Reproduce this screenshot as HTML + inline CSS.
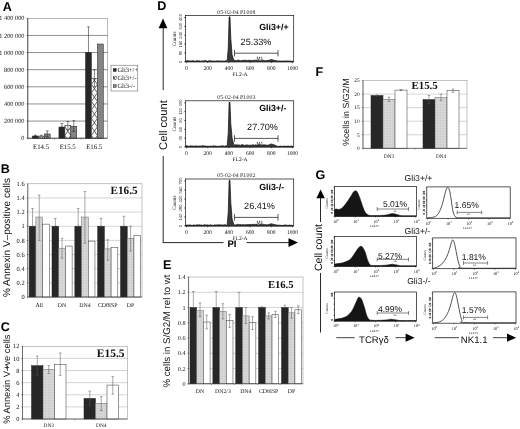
<!DOCTYPE html>
<html lang="en"><head><meta charset="utf-8"><title>Figure</title>
<style>html,body{margin:0;padding:0;background:#fff}svg{display:block}text{white-space:pre;text-rendering:geometricPrecision}</style>
</head><body>
<svg width="520" height="429" viewBox="0 0 520 429">
<defs>
<pattern id="hatch" width="6" height="6" patternUnits="userSpaceOnUse">
<rect width="6" height="6" fill="#f4f4f4"/>
<path d="M0 0L6 6M6 0L0 6" stroke="#333" stroke-width="0.7" fill="none"/>
</pattern>
<pattern id="dots" width="1.5" height="1.5" patternUnits="userSpaceOnUse">
<rect width="1.5" height="1.5" fill="#999"/>
<rect width="0.75" height="0.75" fill="#6e6e6e"/>
<rect x="0.75" y="0.75" width="0.75" height="0.75" fill="#6e6e6e"/>
</pattern>
<pattern id="lg" width="1.6" height="1.6" patternUnits="userSpaceOnUse">
<rect width="1.6" height="1.6" fill="#d8d8d8"/>
<rect width="0.8" height="0.8" fill="#c6c6c6"/>
</pattern>
</defs>
<rect width="520" height="429" fill="#fff"/>
<text x="2.70" y="10.50" font-family='"Liberation Sans", sans-serif' font-size="12.6" font-weight="bold" text-anchor="start" fill="#000" >A</text>
<text x="0.80" y="172.70" font-family='"Liberation Sans", sans-serif' font-size="12.6" font-weight="bold" text-anchor="start" fill="#000" >B</text>
<text x="0.80" y="331.40" font-family='"Liberation Sans", sans-serif' font-size="12.6" font-weight="bold" text-anchor="start" fill="#000" >C</text>
<text x="157.20" y="10.00" font-family='"Liberation Sans", sans-serif' font-size="12.6" font-weight="bold" text-anchor="start" fill="#000" >D</text>
<text x="163.00" y="269.40" font-family='"Liberation Sans", sans-serif' font-size="12.6" font-weight="bold" text-anchor="start" fill="#000" >E</text>
<text x="315.50" y="76.20" font-family='"Liberation Sans", sans-serif' font-size="12.6" font-weight="bold" text-anchor="start" fill="#000" >F</text>
<text x="315.50" y="179.30" font-family='"Liberation Sans", sans-serif' font-size="12.6" font-weight="bold" text-anchor="start" fill="#000" >G</text>
<rect x="27.80" y="18.30" width="79.70" height="119.90" fill="#fff" stroke="#777" stroke-width="0.5" />
<line x1="26.50" y1="138.20" x2="27.80" y2="138.20" stroke="#333" stroke-width="0.5" />
<text x="24.50" y="140.30" font-family='"Liberation Serif", serif' font-size="6.3" font-weight="normal" text-anchor="end" fill="#111" >0</text>
<line x1="27.80" y1="121.07" x2="107.50" y2="121.07" stroke="#333" stroke-width="0.55" />
<line x1="26.50" y1="121.07" x2="27.80" y2="121.07" stroke="#333" stroke-width="0.5" />
<text x="24.50" y="123.17" font-family='"Liberation Serif", serif' font-size="6.3" font-weight="normal" text-anchor="end" fill="#111" >200 000</text>
<line x1="27.80" y1="103.94" x2="107.50" y2="103.94" stroke="#333" stroke-width="0.55" />
<line x1="26.50" y1="103.94" x2="27.80" y2="103.94" stroke="#333" stroke-width="0.5" />
<text x="24.50" y="106.04" font-family='"Liberation Serif", serif' font-size="6.3" font-weight="normal" text-anchor="end" fill="#111" >400 000</text>
<line x1="27.80" y1="86.81" x2="107.50" y2="86.81" stroke="#333" stroke-width="0.55" />
<line x1="26.50" y1="86.81" x2="27.80" y2="86.81" stroke="#333" stroke-width="0.5" />
<text x="24.50" y="88.91" font-family='"Liberation Serif", serif' font-size="6.3" font-weight="normal" text-anchor="end" fill="#111" >600 000</text>
<line x1="27.80" y1="69.69" x2="107.50" y2="69.69" stroke="#333" stroke-width="0.55" />
<line x1="26.50" y1="69.69" x2="27.80" y2="69.69" stroke="#333" stroke-width="0.5" />
<text x="24.50" y="71.79" font-family='"Liberation Serif", serif' font-size="6.3" font-weight="normal" text-anchor="end" fill="#111" >800 000</text>
<line x1="27.80" y1="52.56" x2="107.50" y2="52.56" stroke="#333" stroke-width="0.55" />
<line x1="26.50" y1="52.56" x2="27.80" y2="52.56" stroke="#333" stroke-width="0.5" />
<text x="24.50" y="54.66" font-family='"Liberation Serif", serif' font-size="6.3" font-weight="normal" text-anchor="end" fill="#111" >1 000 000</text>
<line x1="27.80" y1="35.43" x2="107.50" y2="35.43" stroke="#333" stroke-width="0.55" />
<line x1="26.50" y1="35.43" x2="27.80" y2="35.43" stroke="#333" stroke-width="0.5" />
<text x="24.50" y="37.53" font-family='"Liberation Serif", serif' font-size="6.3" font-weight="normal" text-anchor="end" fill="#111" >1 200 000</text>
<line x1="26.50" y1="18.30" x2="27.80" y2="18.30" stroke="#333" stroke-width="0.5" />
<text x="24.50" y="20.40" font-family='"Liberation Serif", serif' font-size="6.3" font-weight="normal" text-anchor="end" fill="#111" >1 400 000</text>
<rect x="32.36" y="136.06" width="5.95" height="2.14" fill="#272727" stroke="#222" stroke-width="0.5" />
<line x1="35.33" y1="135.20" x2="35.33" y2="136.06" stroke="#222" stroke-width="0.55" />
<line x1="33.93" y1="135.20" x2="36.73" y2="135.20" stroke="#222" stroke-width="0.55" />
<line x1="33.93" y1="136.06" x2="36.73" y2="136.06" stroke="#222" stroke-width="0.55" />
<rect x="38.31" y="136.06" width="5.95" height="2.14" fill="#fafafa" stroke="#222" stroke-width="0.5" />
<clipPath id="hc0"><rect x="38.31" y="136.06" width="5.95" height="2.14"/></clipPath>
<path d="M38.31 143.90L44.26 135.40M44.26 143.90L38.31 135.40" stroke="#2a2a2a" stroke-width="0.7" fill="none" clip-path="url(#hc0)"/>
<line x1="41.28" y1="135.20" x2="41.28" y2="136.92" stroke="#222" stroke-width="0.55" />
<line x1="39.88" y1="135.20" x2="42.68" y2="135.20" stroke="#222" stroke-width="0.55" />
<line x1="39.88" y1="136.92" x2="42.68" y2="136.92" stroke="#222" stroke-width="0.55" />
<rect x="44.26" y="133.92" width="5.95" height="4.28" fill="url(#dots)" stroke="#222" stroke-width="0.5" />
<line x1="47.23" y1="130.92" x2="47.23" y2="136.49" stroke="#222" stroke-width="0.55" />
<line x1="45.83" y1="130.92" x2="48.63" y2="130.92" stroke="#222" stroke-width="0.55" />
<line x1="45.83" y1="136.49" x2="48.63" y2="136.49" stroke="#222" stroke-width="0.55" />
<line x1="27.80" y1="138.20" x2="27.80" y2="139.50" stroke="#333" stroke-width="0.5" />
<text x="41.08" y="149.40" font-family='"Liberation Serif", serif' font-size="6.8" font-weight="normal" text-anchor="middle" fill="#111" >E14.5</text>
<rect x="58.93" y="127.07" width="5.95" height="11.13" fill="#272727" stroke="#222" stroke-width="0.5" />
<line x1="61.90" y1="123.64" x2="61.90" y2="127.07" stroke="#222" stroke-width="0.55" />
<line x1="60.50" y1="123.64" x2="63.30" y2="123.64" stroke="#222" stroke-width="0.55" />
<line x1="60.50" y1="127.07" x2="63.30" y2="127.07" stroke="#222" stroke-width="0.55" />
<rect x="64.88" y="125.35" width="5.95" height="12.85" fill="#fafafa" stroke="#222" stroke-width="0.5" />
<clipPath id="hc1"><rect x="64.88" y="125.35" width="5.95" height="12.85"/></clipPath>
<path d="M64.88 143.90L70.83 135.40M70.83 143.90L64.88 135.40M64.88 135.40L70.83 126.90M70.83 135.40L64.88 126.90M64.88 126.90L70.83 118.40M70.83 126.90L64.88 118.40" stroke="#2a2a2a" stroke-width="0.7" fill="none" clip-path="url(#hc1)"/>
<line x1="67.85" y1="121.50" x2="67.85" y2="129.64" stroke="#222" stroke-width="0.55" />
<line x1="66.45" y1="121.50" x2="69.25" y2="121.50" stroke="#222" stroke-width="0.55" />
<line x1="66.45" y1="129.64" x2="69.25" y2="129.64" stroke="#222" stroke-width="0.55" />
<rect x="70.83" y="126.21" width="5.95" height="11.99" fill="url(#dots)" stroke="#222" stroke-width="0.5" />
<line x1="73.80" y1="120.64" x2="73.80" y2="131.35" stroke="#222" stroke-width="0.55" />
<line x1="72.40" y1="120.64" x2="75.20" y2="120.64" stroke="#222" stroke-width="0.55" />
<line x1="72.40" y1="131.35" x2="75.20" y2="131.35" stroke="#222" stroke-width="0.55" />
<line x1="54.37" y1="138.20" x2="54.37" y2="139.50" stroke="#333" stroke-width="0.5" />
<text x="67.65" y="149.40" font-family='"Liberation Serif", serif' font-size="6.8" font-weight="normal" text-anchor="middle" fill="#111" >E15.5</text>
<rect x="85.49" y="52.56" width="5.95" height="85.64" fill="#272727" stroke="#222" stroke-width="0.5" />
<line x1="88.47" y1="26.86" x2="88.47" y2="52.56" stroke="#222" stroke-width="0.55" />
<line x1="87.07" y1="26.86" x2="89.87" y2="26.86" stroke="#222" stroke-width="0.55" />
<line x1="87.07" y1="52.56" x2="89.87" y2="52.56" stroke="#222" stroke-width="0.55" />
<rect x="91.44" y="78.25" width="5.95" height="59.95" fill="#fafafa" stroke="#222" stroke-width="0.5" />
<clipPath id="hc2"><rect x="91.44" y="78.25" width="5.95" height="59.95"/></clipPath>
<path d="M91.44 143.90L97.39 135.40M97.39 143.90L91.44 135.40M91.44 135.40L97.39 126.90M97.39 135.40L91.44 126.90M91.44 126.90L97.39 118.40M97.39 126.90L91.44 118.40M91.44 118.40L97.39 109.90M97.39 118.40L91.44 109.90M91.44 109.90L97.39 101.40M97.39 109.90L91.44 101.40M91.44 101.40L97.39 92.90M97.39 101.40L91.44 92.90M91.44 92.90L97.39 84.40M97.39 92.90L91.44 84.40M91.44 84.40L97.39 75.90M97.39 84.40L91.44 75.90" stroke="#2a2a2a" stroke-width="0.7" fill="none" clip-path="url(#hc2)"/>
<line x1="94.42" y1="69.69" x2="94.42" y2="86.81" stroke="#222" stroke-width="0.55" />
<line x1="93.02" y1="69.69" x2="95.82" y2="69.69" stroke="#222" stroke-width="0.55" />
<line x1="93.02" y1="86.81" x2="95.82" y2="86.81" stroke="#222" stroke-width="0.55" />
<rect x="97.39" y="43.99" width="5.95" height="94.21" fill="url(#dots)" stroke="#222" stroke-width="0.5" />
<line x1="80.93" y1="138.20" x2="80.93" y2="139.50" stroke="#333" stroke-width="0.5" />
<text x="94.22" y="149.40" font-family='"Liberation Serif", serif' font-size="6.8" font-weight="normal" text-anchor="middle" fill="#111" >E16.5</text>
<line x1="27.80" y1="18.30" x2="27.80" y2="138.20" stroke="#222" stroke-width="0.7" />
<line x1="27.80" y1="138.20" x2="107.50" y2="138.20" stroke="#222" stroke-width="0.7" />
<rect x="111.00" y="65.20" width="26.80" height="25.80" fill="#fff" stroke="#555" stroke-width="0.5" />
<rect x="113.20" y="68.50" width="3.00" height="3.00" fill="#272727" stroke="#222" stroke-width="0.4" />
<text x="117.40" y="72.20" font-family='"Liberation Serif", serif' font-size="6.5" font-weight="normal" text-anchor="start" fill="#111" >Gli3+/+</text>
<rect x="113.20" y="76.55" width="3.00" height="3.00" fill="url(#hatch)" stroke="#222" stroke-width="0.4" />
<text x="117.40" y="80.25" font-family='"Liberation Serif", serif' font-size="6.5" font-weight="normal" text-anchor="start" fill="#111" >Gli3+/-</text>
<rect x="113.20" y="84.60" width="3.00" height="3.00" fill="url(#dots)" stroke="#222" stroke-width="0.4" />
<text x="117.40" y="88.30" font-family='"Liberation Serif", serif' font-size="6.5" font-weight="normal" text-anchor="start" fill="#111" >Gli3-/-</text>
<rect x="27.80" y="183.80" width="114.20" height="113.20" fill="#fff" stroke="#888" stroke-width="0.5" />
<line x1="26.60" y1="297.00" x2="27.80" y2="297.00" stroke="#333" stroke-width="0.5" />
<text x="24.60" y="299.11" font-family='"Liberation Serif", serif' font-size="6.4" font-weight="normal" text-anchor="end" fill="#111" >0</text>
<line x1="27.80" y1="282.85" x2="142.00" y2="282.85" stroke="#aaa" stroke-width="0.5" />
<line x1="26.60" y1="282.85" x2="27.80" y2="282.85" stroke="#333" stroke-width="0.5" />
<text x="24.60" y="284.96" font-family='"Liberation Serif", serif' font-size="6.4" font-weight="normal" text-anchor="end" fill="#111" >0.2</text>
<line x1="27.80" y1="268.70" x2="142.00" y2="268.70" stroke="#aaa" stroke-width="0.5" />
<line x1="26.60" y1="268.70" x2="27.80" y2="268.70" stroke="#333" stroke-width="0.5" />
<text x="24.60" y="270.81" font-family='"Liberation Serif", serif' font-size="6.4" font-weight="normal" text-anchor="end" fill="#111" >0.4</text>
<line x1="27.80" y1="254.55" x2="142.00" y2="254.55" stroke="#aaa" stroke-width="0.5" />
<line x1="26.60" y1="254.55" x2="27.80" y2="254.55" stroke="#333" stroke-width="0.5" />
<text x="24.60" y="256.66" font-family='"Liberation Serif", serif' font-size="6.4" font-weight="normal" text-anchor="end" fill="#111" >0.6</text>
<line x1="27.80" y1="240.40" x2="142.00" y2="240.40" stroke="#aaa" stroke-width="0.5" />
<line x1="26.60" y1="240.40" x2="27.80" y2="240.40" stroke="#333" stroke-width="0.5" />
<text x="24.60" y="242.51" font-family='"Liberation Serif", serif' font-size="6.4" font-weight="normal" text-anchor="end" fill="#111" >0.8</text>
<line x1="27.80" y1="226.25" x2="142.00" y2="226.25" stroke="#aaa" stroke-width="0.5" />
<line x1="26.60" y1="226.25" x2="27.80" y2="226.25" stroke="#333" stroke-width="0.5" />
<text x="24.60" y="228.36" font-family='"Liberation Serif", serif' font-size="6.4" font-weight="normal" text-anchor="end" fill="#111" >1</text>
<line x1="27.80" y1="212.10" x2="142.00" y2="212.10" stroke="#aaa" stroke-width="0.5" />
<line x1="26.60" y1="212.10" x2="27.80" y2="212.10" stroke="#333" stroke-width="0.5" />
<text x="24.60" y="214.21" font-family='"Liberation Serif", serif' font-size="6.4" font-weight="normal" text-anchor="end" fill="#111" >1.2</text>
<line x1="27.80" y1="197.95" x2="142.00" y2="197.95" stroke="#aaa" stroke-width="0.5" />
<line x1="26.60" y1="197.95" x2="27.80" y2="197.95" stroke="#333" stroke-width="0.5" />
<text x="24.60" y="200.06" font-family='"Liberation Serif", serif' font-size="6.4" font-weight="normal" text-anchor="end" fill="#111" >1.4</text>
<line x1="26.60" y1="183.80" x2="27.80" y2="183.80" stroke="#333" stroke-width="0.5" />
<text x="24.60" y="185.91" font-family='"Liberation Serif", serif' font-size="6.4" font-weight="normal" text-anchor="end" fill="#111" >1.6</text>
<rect x="29.17" y="226.25" width="6.70" height="70.75" fill="#272727" stroke="#222" stroke-width="0.5" />
<line x1="32.52" y1="208.56" x2="32.52" y2="226.25" stroke="#555" stroke-width="0.5" />
<line x1="31.22" y1="208.56" x2="33.82" y2="208.56" stroke="#555" stroke-width="0.5" />
<line x1="31.22" y1="226.25" x2="33.82" y2="226.25" stroke="#555" stroke-width="0.5" />
<rect x="35.87" y="217.05" width="6.70" height="79.95" fill="url(#lg)" stroke="#666" stroke-width="0.5" />
<line x1="39.22" y1="195.12" x2="39.22" y2="240.40" stroke="#555" stroke-width="0.5" />
<line x1="37.92" y1="195.12" x2="40.52" y2="195.12" stroke="#555" stroke-width="0.5" />
<line x1="37.92" y1="240.40" x2="40.52" y2="240.40" stroke="#555" stroke-width="0.5" />
<rect x="42.57" y="224.13" width="6.70" height="72.87" fill="#fff" stroke="#333" stroke-width="0.5" />
<line x1="27.80" y1="297.00" x2="27.80" y2="298.20" stroke="#333" stroke-width="0.5" />
<text x="39.22" y="307.20" font-family='"Liberation Serif", serif' font-size="5.9" font-weight="normal" text-anchor="middle" fill="#111" >All</text>
<rect x="52.01" y="226.25" width="6.70" height="70.75" fill="#272727" stroke="#222" stroke-width="0.5" />
<line x1="55.36" y1="218.47" x2="55.36" y2="226.25" stroke="#555" stroke-width="0.5" />
<line x1="54.06" y1="218.47" x2="56.66" y2="218.47" stroke="#555" stroke-width="0.5" />
<line x1="54.06" y1="226.25" x2="56.66" y2="226.25" stroke="#555" stroke-width="0.5" />
<rect x="58.71" y="248.18" width="6.70" height="48.82" fill="url(#lg)" stroke="#666" stroke-width="0.5" />
<line x1="62.06" y1="238.28" x2="62.06" y2="258.09" stroke="#555" stroke-width="0.5" />
<line x1="60.76" y1="238.28" x2="63.36" y2="238.28" stroke="#555" stroke-width="0.5" />
<line x1="60.76" y1="258.09" x2="63.36" y2="258.09" stroke="#555" stroke-width="0.5" />
<rect x="65.41" y="246.06" width="6.70" height="50.94" fill="#fff" stroke="#333" stroke-width="0.5" />
<line x1="50.64" y1="297.00" x2="50.64" y2="298.20" stroke="#333" stroke-width="0.5" />
<text x="62.06" y="307.20" font-family='"Liberation Serif", serif' font-size="5.9" font-weight="normal" text-anchor="middle" fill="#111" >DN</text>
<rect x="74.85" y="226.25" width="6.70" height="70.75" fill="#272727" stroke="#222" stroke-width="0.5" />
<line x1="78.20" y1="208.56" x2="78.20" y2="226.25" stroke="#555" stroke-width="0.5" />
<line x1="76.90" y1="208.56" x2="79.50" y2="208.56" stroke="#555" stroke-width="0.5" />
<line x1="76.90" y1="226.25" x2="79.50" y2="226.25" stroke="#555" stroke-width="0.5" />
<rect x="81.55" y="217.05" width="6.70" height="79.95" fill="url(#lg)" stroke="#666" stroke-width="0.5" />
<line x1="84.90" y1="191.58" x2="84.90" y2="243.23" stroke="#555" stroke-width="0.5" />
<line x1="83.60" y1="191.58" x2="86.20" y2="191.58" stroke="#555" stroke-width="0.5" />
<line x1="83.60" y1="243.23" x2="86.20" y2="243.23" stroke="#555" stroke-width="0.5" />
<rect x="88.25" y="241.11" width="6.70" height="55.89" fill="#fff" stroke="#333" stroke-width="0.5" />
<line x1="73.48" y1="297.00" x2="73.48" y2="298.20" stroke="#333" stroke-width="0.5" />
<text x="84.90" y="307.20" font-family='"Liberation Serif", serif' font-size="5.9" font-weight="normal" text-anchor="middle" fill="#111" >DN4</text>
<rect x="97.69" y="226.25" width="6.70" height="70.75" fill="#272727" stroke="#222" stroke-width="0.5" />
<line x1="101.04" y1="218.47" x2="101.04" y2="226.25" stroke="#555" stroke-width="0.5" />
<line x1="99.74" y1="218.47" x2="102.34" y2="218.47" stroke="#555" stroke-width="0.5" />
<line x1="99.74" y1="226.25" x2="102.34" y2="226.25" stroke="#555" stroke-width="0.5" />
<rect x="104.39" y="248.89" width="6.70" height="48.11" fill="url(#lg)" stroke="#666" stroke-width="0.5" />
<line x1="107.74" y1="239.69" x2="107.74" y2="260.21" stroke="#555" stroke-width="0.5" />
<line x1="106.44" y1="239.69" x2="109.04" y2="239.69" stroke="#555" stroke-width="0.5" />
<line x1="106.44" y1="260.21" x2="109.04" y2="260.21" stroke="#555" stroke-width="0.5" />
<rect x="111.09" y="247.48" width="6.70" height="49.52" fill="#fff" stroke="#333" stroke-width="0.5" />
<line x1="96.32" y1="297.00" x2="96.32" y2="298.20" stroke="#333" stroke-width="0.5" />
<text x="107.74" y="307.20" font-family='"Liberation Serif", serif' font-size="5.9" font-weight="normal" text-anchor="middle" fill="#111" >CD8ISP</text>
<rect x="120.53" y="226.25" width="6.70" height="70.75" fill="#272727" stroke="#222" stroke-width="0.5" />
<line x1="123.88" y1="216.35" x2="123.88" y2="226.25" stroke="#555" stroke-width="0.5" />
<line x1="122.58" y1="216.35" x2="125.18" y2="216.35" stroke="#555" stroke-width="0.5" />
<line x1="122.58" y1="226.25" x2="125.18" y2="226.25" stroke="#555" stroke-width="0.5" />
<rect x="127.23" y="238.28" width="6.70" height="58.72" fill="url(#lg)" stroke="#666" stroke-width="0.5" />
<line x1="130.58" y1="226.25" x2="130.58" y2="251.01" stroke="#555" stroke-width="0.5" />
<line x1="129.28" y1="226.25" x2="131.88" y2="226.25" stroke="#555" stroke-width="0.5" />
<line x1="129.28" y1="251.01" x2="131.88" y2="251.01" stroke="#555" stroke-width="0.5" />
<rect x="133.93" y="235.45" width="6.70" height="61.55" fill="#fff" stroke="#333" stroke-width="0.5" />
<line x1="119.16" y1="297.00" x2="119.16" y2="298.20" stroke="#333" stroke-width="0.5" />
<text x="130.58" y="307.20" font-family='"Liberation Serif", serif' font-size="5.9" font-weight="normal" text-anchor="middle" fill="#111" >DP</text>
<line x1="27.80" y1="183.80" x2="27.80" y2="297.00" stroke="#333" stroke-width="0.6" />
<line x1="27.80" y1="297.00" x2="142.00" y2="297.00" stroke="#333" stroke-width="0.6" />
<text x="137.60" y="193.80" font-family='"Liberation Serif", serif' font-size="11.2" font-weight="bold" text-anchor="end" fill="#111" >E16.5</text>
<text x="9.60" y="237.60" font-family='"Liberation Sans", sans-serif' font-size="10.0" font-weight="normal" text-anchor="middle" fill="#111" transform="rotate(-90 9.60 237.60)" >% Annexin V–positive cells</text>
<rect x="22.50" y="346.30" width="105.00" height="72.70" fill="#fff" stroke="#888" stroke-width="0.5" />
<line x1="21.30" y1="419.00" x2="22.50" y2="419.00" stroke="#333" stroke-width="0.5" />
<text x="19.50" y="421.11" font-family='"Liberation Serif", serif' font-size="6.4" font-weight="normal" text-anchor="end" fill="#111" >0</text>
<line x1="22.50" y1="406.88" x2="127.50" y2="406.88" stroke="#aaa" stroke-width="0.5" />
<line x1="21.30" y1="406.88" x2="22.50" y2="406.88" stroke="#333" stroke-width="0.5" />
<text x="19.50" y="409.00" font-family='"Liberation Serif", serif' font-size="6.4" font-weight="normal" text-anchor="end" fill="#111" >2</text>
<line x1="22.50" y1="394.77" x2="127.50" y2="394.77" stroke="#aaa" stroke-width="0.5" />
<line x1="21.30" y1="394.77" x2="22.50" y2="394.77" stroke="#333" stroke-width="0.5" />
<text x="19.50" y="396.88" font-family='"Liberation Serif", serif' font-size="6.4" font-weight="normal" text-anchor="end" fill="#111" >4</text>
<line x1="22.50" y1="382.65" x2="127.50" y2="382.65" stroke="#aaa" stroke-width="0.5" />
<line x1="21.30" y1="382.65" x2="22.50" y2="382.65" stroke="#333" stroke-width="0.5" />
<text x="19.50" y="384.76" font-family='"Liberation Serif", serif' font-size="6.4" font-weight="normal" text-anchor="end" fill="#111" >6</text>
<line x1="22.50" y1="370.53" x2="127.50" y2="370.53" stroke="#aaa" stroke-width="0.5" />
<line x1="21.30" y1="370.53" x2="22.50" y2="370.53" stroke="#333" stroke-width="0.5" />
<text x="19.50" y="372.65" font-family='"Liberation Serif", serif' font-size="6.4" font-weight="normal" text-anchor="end" fill="#111" >8</text>
<line x1="22.50" y1="358.42" x2="127.50" y2="358.42" stroke="#aaa" stroke-width="0.5" />
<line x1="21.30" y1="358.42" x2="22.50" y2="358.42" stroke="#333" stroke-width="0.5" />
<text x="19.50" y="360.53" font-family='"Liberation Serif", serif' font-size="6.4" font-weight="normal" text-anchor="end" fill="#111" >10</text>
<line x1="21.30" y1="346.30" x2="22.50" y2="346.30" stroke="#333" stroke-width="0.5" />
<text x="19.50" y="348.41" font-family='"Liberation Serif", serif' font-size="6.4" font-weight="normal" text-anchor="end" fill="#111" >12</text>
<rect x="31.50" y="365.69" width="11.50" height="53.31" fill="#272727" stroke="#222" stroke-width="0.5" />
<line x1="37.25" y1="355.99" x2="37.25" y2="375.38" stroke="#555" stroke-width="0.5" />
<line x1="35.95" y1="355.99" x2="38.55" y2="355.99" stroke="#555" stroke-width="0.5" />
<line x1="35.95" y1="375.38" x2="38.55" y2="375.38" stroke="#555" stroke-width="0.5" />
<rect x="43.00" y="369.32" width="11.50" height="49.68" fill="url(#lg)" stroke="#666" stroke-width="0.5" />
<line x1="48.75" y1="365.69" x2="48.75" y2="373.56" stroke="#555" stroke-width="0.5" />
<line x1="47.45" y1="365.69" x2="50.05" y2="365.69" stroke="#555" stroke-width="0.5" />
<line x1="47.45" y1="373.56" x2="50.05" y2="373.56" stroke="#555" stroke-width="0.5" />
<rect x="54.50" y="364.48" width="11.50" height="54.52" fill="#fff" stroke="#333" stroke-width="0.5" />
<line x1="60.25" y1="352.96" x2="60.25" y2="375.38" stroke="#555" stroke-width="0.5" />
<line x1="58.95" y1="352.96" x2="61.55" y2="352.96" stroke="#555" stroke-width="0.5" />
<line x1="58.95" y1="375.38" x2="61.55" y2="375.38" stroke="#555" stroke-width="0.5" />
<line x1="22.50" y1="419.00" x2="22.50" y2="420.20" stroke="#333" stroke-width="0.5" />
<text x="48.75" y="426.80" font-family='"Liberation Serif", serif' font-size="5.4" font-weight="normal" text-anchor="middle" fill="#111" >DN3</text>
<rect x="84.00" y="398.40" width="11.50" height="20.60" fill="#272727" stroke="#222" stroke-width="0.5" />
<line x1="89.75" y1="391.13" x2="89.75" y2="405.07" stroke="#555" stroke-width="0.5" />
<line x1="88.45" y1="391.13" x2="91.05" y2="391.13" stroke="#555" stroke-width="0.5" />
<line x1="88.45" y1="405.07" x2="91.05" y2="405.07" stroke="#555" stroke-width="0.5" />
<rect x="95.50" y="403.25" width="11.50" height="15.75" fill="url(#lg)" stroke="#666" stroke-width="0.5" />
<line x1="101.25" y1="396.58" x2="101.25" y2="410.52" stroke="#555" stroke-width="0.5" />
<line x1="99.95" y1="396.58" x2="102.55" y2="396.58" stroke="#555" stroke-width="0.5" />
<line x1="99.95" y1="410.52" x2="102.55" y2="410.52" stroke="#555" stroke-width="0.5" />
<rect x="107.00" y="385.07" width="11.50" height="33.93" fill="#fff" stroke="#333" stroke-width="0.5" />
<line x1="112.75" y1="376.59" x2="112.75" y2="394.16" stroke="#555" stroke-width="0.5" />
<line x1="111.45" y1="376.59" x2="114.05" y2="376.59" stroke="#555" stroke-width="0.5" />
<line x1="111.45" y1="394.16" x2="114.05" y2="394.16" stroke="#555" stroke-width="0.5" />
<line x1="75.00" y1="419.00" x2="75.00" y2="420.20" stroke="#333" stroke-width="0.5" />
<text x="101.25" y="426.80" font-family='"Liberation Serif", serif' font-size="5.4" font-weight="normal" text-anchor="middle" fill="#111" >DN4</text>
<line x1="22.50" y1="346.30" x2="22.50" y2="419.00" stroke="#333" stroke-width="0.6" />
<line x1="22.50" y1="419.00" x2="127.50" y2="419.00" stroke="#333" stroke-width="0.6" />
<text x="124.60" y="356.80" font-family='"Liberation Serif", serif' font-size="11.5" font-weight="bold" text-anchor="end" fill="#111" >E15.5</text>
<text x="9.70" y="423.80" font-family='"Liberation Sans", sans-serif' font-size="9.3" font-weight="normal" text-anchor="start" fill="#111" transform="rotate(-90 9.70 423.80)" >% Annexin V–<tspan dx="-4.2">+</tspan><tspan dx="-0.9">ve cells</tspan></text>
<rect x="188.60" y="277.00" width="114.40" height="106.80" fill="#fff" stroke="#888" stroke-width="0.5" />
<line x1="187.40" y1="383.80" x2="188.60" y2="383.80" stroke="#333" stroke-width="0.5" />
<text x="185.60" y="385.85" font-family='"Liberation Serif", serif' font-size="6.2" font-weight="normal" text-anchor="end" fill="#111" >0</text>
<line x1="188.60" y1="368.54" x2="303.00" y2="368.54" stroke="#aaa" stroke-width="0.5" />
<line x1="187.40" y1="368.54" x2="188.60" y2="368.54" stroke="#333" stroke-width="0.5" />
<text x="185.60" y="370.59" font-family='"Liberation Serif", serif' font-size="6.2" font-weight="normal" text-anchor="end" fill="#111" >0.2</text>
<line x1="188.60" y1="353.29" x2="303.00" y2="353.29" stroke="#aaa" stroke-width="0.5" />
<line x1="187.40" y1="353.29" x2="188.60" y2="353.29" stroke="#333" stroke-width="0.5" />
<text x="185.60" y="355.33" font-family='"Liberation Serif", serif' font-size="6.2" font-weight="normal" text-anchor="end" fill="#111" >0.4</text>
<line x1="188.60" y1="338.03" x2="303.00" y2="338.03" stroke="#aaa" stroke-width="0.5" />
<line x1="187.40" y1="338.03" x2="188.60" y2="338.03" stroke="#333" stroke-width="0.5" />
<text x="185.60" y="340.07" font-family='"Liberation Serif", serif' font-size="6.2" font-weight="normal" text-anchor="end" fill="#111" >0.6</text>
<line x1="188.60" y1="322.77" x2="303.00" y2="322.77" stroke="#aaa" stroke-width="0.5" />
<line x1="187.40" y1="322.77" x2="188.60" y2="322.77" stroke="#333" stroke-width="0.5" />
<text x="185.60" y="324.82" font-family='"Liberation Serif", serif' font-size="6.2" font-weight="normal" text-anchor="end" fill="#111" >0.8</text>
<line x1="188.60" y1="307.51" x2="303.00" y2="307.51" stroke="#aaa" stroke-width="0.5" />
<line x1="187.40" y1="307.51" x2="188.60" y2="307.51" stroke="#333" stroke-width="0.5" />
<text x="185.60" y="309.56" font-family='"Liberation Serif", serif' font-size="6.2" font-weight="normal" text-anchor="end" fill="#111" >1</text>
<line x1="188.60" y1="292.26" x2="303.00" y2="292.26" stroke="#aaa" stroke-width="0.5" />
<line x1="187.40" y1="292.26" x2="188.60" y2="292.26" stroke="#333" stroke-width="0.5" />
<text x="185.60" y="294.30" font-family='"Liberation Serif", serif' font-size="6.2" font-weight="normal" text-anchor="end" fill="#111" >1.2</text>
<line x1="187.40" y1="277.00" x2="188.60" y2="277.00" stroke="#333" stroke-width="0.5" />
<text x="185.60" y="279.05" font-family='"Liberation Serif", serif' font-size="6.2" font-weight="normal" text-anchor="end" fill="#111" >1.4</text>
<rect x="189.99" y="307.51" width="6.70" height="76.29" fill="#272727" stroke="#222" stroke-width="0.5" />
<line x1="193.34" y1="291.49" x2="193.34" y2="307.51" stroke="#555" stroke-width="0.5" />
<line x1="192.04" y1="291.49" x2="194.64" y2="291.49" stroke="#555" stroke-width="0.5" />
<line x1="192.04" y1="307.51" x2="194.64" y2="307.51" stroke="#555" stroke-width="0.5" />
<rect x="196.69" y="310.57" width="6.70" height="73.23" fill="url(#lg)" stroke="#666" stroke-width="0.5" />
<line x1="200.04" y1="302.94" x2="200.04" y2="316.67" stroke="#555" stroke-width="0.5" />
<line x1="198.74" y1="302.94" x2="201.34" y2="302.94" stroke="#555" stroke-width="0.5" />
<line x1="198.74" y1="316.67" x2="201.34" y2="316.67" stroke="#555" stroke-width="0.5" />
<rect x="203.39" y="322.01" width="6.70" height="61.79" fill="#fff" stroke="#333" stroke-width="0.5" />
<line x1="206.74" y1="315.14" x2="206.74" y2="328.87" stroke="#555" stroke-width="0.5" />
<line x1="205.44" y1="315.14" x2="208.04" y2="315.14" stroke="#555" stroke-width="0.5" />
<line x1="205.44" y1="328.87" x2="208.04" y2="328.87" stroke="#555" stroke-width="0.5" />
<line x1="188.60" y1="383.80" x2="188.60" y2="385.00" stroke="#333" stroke-width="0.5" />
<text x="200.04" y="393.00" font-family='"Liberation Serif", serif' font-size="5.8" font-weight="normal" text-anchor="middle" fill="#111" >DN</text>
<rect x="212.87" y="307.51" width="6.70" height="76.29" fill="#272727" stroke="#222" stroke-width="0.5" />
<line x1="216.22" y1="291.49" x2="216.22" y2="307.51" stroke="#555" stroke-width="0.5" />
<line x1="214.92" y1="291.49" x2="217.52" y2="291.49" stroke="#555" stroke-width="0.5" />
<line x1="214.92" y1="307.51" x2="217.52" y2="307.51" stroke="#555" stroke-width="0.5" />
<rect x="219.57" y="311.33" width="6.70" height="72.47" fill="url(#lg)" stroke="#666" stroke-width="0.5" />
<line x1="222.92" y1="303.70" x2="222.92" y2="318.96" stroke="#555" stroke-width="0.5" />
<line x1="221.62" y1="303.70" x2="224.22" y2="303.70" stroke="#555" stroke-width="0.5" />
<line x1="221.62" y1="318.96" x2="224.22" y2="318.96" stroke="#555" stroke-width="0.5" />
<rect x="226.27" y="320.48" width="6.70" height="63.32" fill="#fff" stroke="#333" stroke-width="0.5" />
<line x1="229.62" y1="314.38" x2="229.62" y2="327.35" stroke="#555" stroke-width="0.5" />
<line x1="228.32" y1="314.38" x2="230.92" y2="314.38" stroke="#555" stroke-width="0.5" />
<line x1="228.32" y1="327.35" x2="230.92" y2="327.35" stroke="#555" stroke-width="0.5" />
<line x1="211.48" y1="383.80" x2="211.48" y2="385.00" stroke="#333" stroke-width="0.5" />
<text x="222.92" y="393.00" font-family='"Liberation Serif", serif' font-size="5.8" font-weight="normal" text-anchor="middle" fill="#111" >DN2/3</text>
<rect x="235.75" y="307.51" width="6.70" height="76.29" fill="#272727" stroke="#222" stroke-width="0.5" />
<line x1="239.10" y1="292.26" x2="239.10" y2="307.51" stroke="#555" stroke-width="0.5" />
<line x1="237.80" y1="292.26" x2="240.40" y2="292.26" stroke="#555" stroke-width="0.5" />
<line x1="237.80" y1="307.51" x2="240.40" y2="307.51" stroke="#555" stroke-width="0.5" />
<rect x="242.45" y="315.91" width="6.70" height="67.89" fill="url(#lg)" stroke="#666" stroke-width="0.5" />
<line x1="245.80" y1="307.51" x2="245.80" y2="323.53" stroke="#555" stroke-width="0.5" />
<line x1="244.50" y1="307.51" x2="247.10" y2="307.51" stroke="#555" stroke-width="0.5" />
<line x1="244.50" y1="323.53" x2="247.10" y2="323.53" stroke="#555" stroke-width="0.5" />
<rect x="249.15" y="322.77" width="6.70" height="61.03" fill="#fff" stroke="#333" stroke-width="0.5" />
<line x1="252.50" y1="316.67" x2="252.50" y2="329.64" stroke="#555" stroke-width="0.5" />
<line x1="251.20" y1="316.67" x2="253.80" y2="316.67" stroke="#555" stroke-width="0.5" />
<line x1="251.20" y1="329.64" x2="253.80" y2="329.64" stroke="#555" stroke-width="0.5" />
<line x1="234.36" y1="383.80" x2="234.36" y2="385.00" stroke="#333" stroke-width="0.5" />
<text x="245.80" y="393.00" font-family='"Liberation Serif", serif' font-size="5.8" font-weight="normal" text-anchor="middle" fill="#111" >DN4</text>
<rect x="258.63" y="307.51" width="6.70" height="76.29" fill="#272727" stroke="#222" stroke-width="0.5" />
<line x1="261.98" y1="306.75" x2="261.98" y2="307.51" stroke="#555" stroke-width="0.5" />
<line x1="260.68" y1="306.75" x2="263.28" y2="306.75" stroke="#555" stroke-width="0.5" />
<line x1="260.68" y1="307.51" x2="263.28" y2="307.51" stroke="#555" stroke-width="0.5" />
<rect x="265.33" y="315.91" width="6.70" height="67.89" fill="url(#lg)" stroke="#666" stroke-width="0.5" />
<line x1="268.68" y1="312.85" x2="268.68" y2="318.96" stroke="#555" stroke-width="0.5" />
<line x1="267.38" y1="312.85" x2="269.98" y2="312.85" stroke="#555" stroke-width="0.5" />
<line x1="267.38" y1="318.96" x2="269.98" y2="318.96" stroke="#555" stroke-width="0.5" />
<rect x="272.03" y="314.38" width="6.70" height="69.42" fill="#fff" stroke="#333" stroke-width="0.5" />
<line x1="275.38" y1="311.33" x2="275.38" y2="317.43" stroke="#555" stroke-width="0.5" />
<line x1="274.08" y1="311.33" x2="276.68" y2="311.33" stroke="#555" stroke-width="0.5" />
<line x1="274.08" y1="317.43" x2="276.68" y2="317.43" stroke="#555" stroke-width="0.5" />
<line x1="257.24" y1="383.80" x2="257.24" y2="385.00" stroke="#333" stroke-width="0.5" />
<text x="268.68" y="393.00" font-family='"Liberation Serif", serif' font-size="5.8" font-weight="normal" text-anchor="middle" fill="#111" >CD8ISP</text>
<rect x="281.51" y="307.51" width="6.70" height="76.29" fill="#272727" stroke="#222" stroke-width="0.5" />
<line x1="284.86" y1="305.23" x2="284.86" y2="307.51" stroke="#555" stroke-width="0.5" />
<line x1="283.56" y1="305.23" x2="286.16" y2="305.23" stroke="#555" stroke-width="0.5" />
<line x1="283.56" y1="307.51" x2="286.16" y2="307.51" stroke="#555" stroke-width="0.5" />
<rect x="288.21" y="312.85" width="6.70" height="70.95" fill="url(#lg)" stroke="#666" stroke-width="0.5" />
<line x1="291.56" y1="307.51" x2="291.56" y2="318.19" stroke="#555" stroke-width="0.5" />
<line x1="290.26" y1="307.51" x2="292.86" y2="307.51" stroke="#555" stroke-width="0.5" />
<line x1="290.26" y1="318.19" x2="292.86" y2="318.19" stroke="#555" stroke-width="0.5" />
<rect x="294.91" y="309.80" width="6.70" height="74.00" fill="#fff" stroke="#333" stroke-width="0.5" />
<line x1="298.26" y1="305.99" x2="298.26" y2="313.62" stroke="#555" stroke-width="0.5" />
<line x1="296.96" y1="305.99" x2="299.56" y2="305.99" stroke="#555" stroke-width="0.5" />
<line x1="296.96" y1="313.62" x2="299.56" y2="313.62" stroke="#555" stroke-width="0.5" />
<line x1="280.12" y1="383.80" x2="280.12" y2="385.00" stroke="#333" stroke-width="0.5" />
<text x="291.56" y="393.00" font-family='"Liberation Serif", serif' font-size="5.8" font-weight="normal" text-anchor="middle" fill="#111" >DP</text>
<line x1="188.60" y1="277.00" x2="188.60" y2="383.80" stroke="#333" stroke-width="0.6" />
<line x1="188.60" y1="383.80" x2="303.00" y2="383.80" stroke="#333" stroke-width="0.6" />
<text x="293.50" y="287.60" font-family='"Liberation Serif", serif' font-size="10.6" font-weight="bold" text-anchor="end" fill="#111" >E16.5</text>
<text x="169.80" y="331.00" font-family='"Liberation Sans", sans-serif' font-size="9.7" font-weight="normal" text-anchor="middle" fill="#111" transform="rotate(-90 169.80 331.00)" >% cells in S/G2/M rel to wt</text>
<rect x="363.00" y="80.60" width="104.00" height="67.70" fill="#fff" stroke="#888" stroke-width="0.5" />
<line x1="361.80" y1="148.30" x2="363.00" y2="148.30" stroke="#333" stroke-width="0.5" />
<text x="359.60" y="150.05" font-family='"Liberation Serif", serif' font-size="5.3" font-weight="normal" text-anchor="end" fill="#111" >0</text>
<line x1="363.00" y1="134.76" x2="467.00" y2="134.76" stroke="#aaa" stroke-width="0.5" />
<line x1="361.80" y1="134.76" x2="363.00" y2="134.76" stroke="#333" stroke-width="0.5" />
<text x="359.60" y="136.51" font-family='"Liberation Serif", serif' font-size="5.3" font-weight="normal" text-anchor="end" fill="#111" >5</text>
<line x1="363.00" y1="121.22" x2="467.00" y2="121.22" stroke="#aaa" stroke-width="0.5" />
<line x1="361.80" y1="121.22" x2="363.00" y2="121.22" stroke="#333" stroke-width="0.5" />
<text x="359.60" y="122.97" font-family='"Liberation Serif", serif' font-size="5.3" font-weight="normal" text-anchor="end" fill="#111" >10</text>
<line x1="363.00" y1="107.68" x2="467.00" y2="107.68" stroke="#aaa" stroke-width="0.5" />
<line x1="361.80" y1="107.68" x2="363.00" y2="107.68" stroke="#333" stroke-width="0.5" />
<text x="359.60" y="109.43" font-family='"Liberation Serif", serif' font-size="5.3" font-weight="normal" text-anchor="end" fill="#111" >15</text>
<line x1="363.00" y1="94.14" x2="467.00" y2="94.14" stroke="#aaa" stroke-width="0.5" />
<line x1="361.80" y1="94.14" x2="363.00" y2="94.14" stroke="#333" stroke-width="0.5" />
<text x="359.60" y="95.89" font-family='"Liberation Serif", serif' font-size="5.3" font-weight="normal" text-anchor="end" fill="#111" >20</text>
<line x1="361.80" y1="80.60" x2="363.00" y2="80.60" stroke="#333" stroke-width="0.5" />
<text x="359.60" y="82.35" font-family='"Liberation Serif", serif' font-size="5.3" font-weight="normal" text-anchor="end" fill="#111" >25</text>
<rect x="371.00" y="95.49" width="12.00" height="52.81" fill="#272727" stroke="#222" stroke-width="0.5" />
<line x1="377.00" y1="94.95" x2="377.00" y2="96.04" stroke="#555" stroke-width="0.5" />
<line x1="375.70" y1="94.95" x2="378.30" y2="94.95" stroke="#555" stroke-width="0.5" />
<line x1="375.70" y1="96.04" x2="378.30" y2="96.04" stroke="#555" stroke-width="0.5" />
<rect x="383.00" y="99.29" width="12.00" height="49.01" fill="url(#lg)" stroke="#666" stroke-width="0.5" />
<line x1="389.00" y1="97.12" x2="389.00" y2="101.45" stroke="#555" stroke-width="0.5" />
<line x1="387.70" y1="97.12" x2="390.30" y2="97.12" stroke="#555" stroke-width="0.5" />
<line x1="387.70" y1="101.45" x2="390.30" y2="101.45" stroke="#555" stroke-width="0.5" />
<rect x="395.00" y="90.08" width="12.00" height="58.22" fill="#fff" stroke="#333" stroke-width="0.5" />
<line x1="401.00" y1="89.54" x2="401.00" y2="90.62" stroke="#555" stroke-width="0.5" />
<line x1="399.70" y1="89.54" x2="402.30" y2="89.54" stroke="#555" stroke-width="0.5" />
<line x1="399.70" y1="90.62" x2="402.30" y2="90.62" stroke="#555" stroke-width="0.5" />
<line x1="363.00" y1="148.30" x2="363.00" y2="149.50" stroke="#333" stroke-width="0.5" />
<text x="389.00" y="157.60" font-family='"Liberation Serif", serif' font-size="5.2" font-weight="normal" text-anchor="middle" fill="#111" >DN3</text>
<rect x="423.00" y="99.56" width="12.00" height="48.74" fill="#272727" stroke="#222" stroke-width="0.5" />
<line x1="429.00" y1="95.49" x2="429.00" y2="103.62" stroke="#555" stroke-width="0.5" />
<line x1="427.70" y1="95.49" x2="430.30" y2="95.49" stroke="#555" stroke-width="0.5" />
<line x1="427.70" y1="103.62" x2="430.30" y2="103.62" stroke="#555" stroke-width="0.5" />
<rect x="435.00" y="97.39" width="12.00" height="50.91" fill="url(#lg)" stroke="#666" stroke-width="0.5" />
<line x1="441.00" y1="94.14" x2="441.00" y2="100.64" stroke="#555" stroke-width="0.5" />
<line x1="439.70" y1="94.14" x2="442.30" y2="94.14" stroke="#555" stroke-width="0.5" />
<line x1="439.70" y1="100.64" x2="442.30" y2="100.64" stroke="#555" stroke-width="0.5" />
<rect x="447.00" y="90.62" width="12.00" height="57.68" fill="#fff" stroke="#333" stroke-width="0.5" />
<line x1="453.00" y1="88.99" x2="453.00" y2="92.24" stroke="#555" stroke-width="0.5" />
<line x1="451.70" y1="88.99" x2="454.30" y2="88.99" stroke="#555" stroke-width="0.5" />
<line x1="451.70" y1="92.24" x2="454.30" y2="92.24" stroke="#555" stroke-width="0.5" />
<line x1="415.00" y1="148.30" x2="415.00" y2="149.50" stroke="#333" stroke-width="0.5" />
<text x="441.00" y="157.60" font-family='"Liberation Serif", serif' font-size="5.2" font-weight="normal" text-anchor="middle" fill="#111" >DN4</text>
<line x1="363.00" y1="80.60" x2="363.00" y2="148.30" stroke="#333" stroke-width="0.6" />
<line x1="363.00" y1="148.30" x2="467.00" y2="148.30" stroke="#333" stroke-width="0.6" />
<text x="424.60" y="89.20" font-family='"Liberation Serif", serif' font-size="10.9" font-weight="bold" text-anchor="middle" fill="#111" >E15.5</text>
<text x="348.60" y="112.20" font-family='"Liberation Sans", sans-serif' font-size="8.9" font-weight="normal" text-anchor="middle" fill="#111" transform="rotate(-90 348.60 112.20)" >%cells in S/G2/M</text>
<rect x="185.50" y="15.50" width="108.20" height="46.30" fill="#fff" stroke="#111" stroke-width="0.7" />
<polygon points="185.80,61.40 186.00,61.11 187.10,60.61 188.20,60.67 189.30,61.02 190.40,60.85 191.50,60.89 192.60,60.74 193.70,60.65 194.80,61.13 195.90,61.18 197.00,60.61 198.10,60.90 199.20,60.67 200.30,61.20 201.40,60.89 202.50,60.69 203.60,61.04 204.70,60.54 205.80,60.57 206.90,61.18 208.00,61.18 209.10,60.82 210.20,60.54 211.30,60.93 212.40,61.05 213.50,60.90 214.60,61.18 215.70,61.04 216.80,60.89 217.90,60.85 219.00,61.04 220.10,61.04 221.20,61.05 222.30,60.88 223.40,61.00 224.50,61.18 225.60,60.61 226.70,60.81 227.20,60.40 228.26,47.91 229.11,17.10 229.96,16.70 230.81,38.65 232.08,54.87 233.67,59.72 234.73,60.38 236.13,60.71 237.53,60.13 238.93,60.22 240.33,60.75 241.73,60.60 243.13,60.32 244.53,60.33 245.93,60.17 247.33,60.54 248.73,60.24 250.13,60.36 251.53,60.62 252.93,60.42 254.33,60.20 255.73,60.23 257.13,60.48 258.53,60.42 259.93,60.82 261.33,60.67 262.73,60.27 264.13,60.54 265.53,60.72 266.93,60.44 268.65,60.36 271.30,59.56 273.95,60.20 276.60,60.80 277.66,60.95 279.36,60.96 281.06,61.11 282.76,61.08 284.46,61.05 286.16,60.91 287.86,61.04 289.56,61.10 291.26,61.06 293.20,61.50 293.20,61.80 185.80,61.80" fill="#3a3a3a" stroke="#111" stroke-width="0.7" stroke-linejoin="round"/>
<text x="236.30" y="13.60" font-family='"Liberation Serif", serif' font-size="5.8" font-weight="normal" text-anchor="middle" fill="#222" >05-02-04 PI.008</text>
<line x1="186.50" y1="61.80" x2="186.50" y2="63.10" stroke="#111" stroke-width="0.6" />
<text x="186.50" y="70.10" font-family='"Liberation Serif", serif' font-size="5.6" font-weight="normal" text-anchor="middle" fill="#111" >0</text>
<line x1="207.70" y1="61.80" x2="207.70" y2="63.10" stroke="#111" stroke-width="0.6" />
<text x="207.70" y="70.10" font-family='"Liberation Serif", serif' font-size="5.6" font-weight="normal" text-anchor="middle" fill="#111" >200</text>
<line x1="228.90" y1="61.80" x2="228.90" y2="63.10" stroke="#111" stroke-width="0.6" />
<text x="228.90" y="70.10" font-family='"Liberation Serif", serif' font-size="5.6" font-weight="normal" text-anchor="middle" fill="#111" >400</text>
<line x1="250.10" y1="61.80" x2="250.10" y2="63.10" stroke="#111" stroke-width="0.6" />
<text x="250.10" y="70.10" font-family='"Liberation Serif", serif' font-size="5.6" font-weight="normal" text-anchor="middle" fill="#111" >600</text>
<line x1="271.30" y1="61.80" x2="271.30" y2="63.10" stroke="#111" stroke-width="0.6" />
<text x="271.30" y="70.10" font-family='"Liberation Serif", serif' font-size="5.6" font-weight="normal" text-anchor="middle" fill="#111" >800</text>
<line x1="292.50" y1="61.80" x2="292.50" y2="63.10" stroke="#111" stroke-width="0.6" />
<text x="292.50" y="70.10" font-family='"Liberation Serif", serif' font-size="5.6" font-weight="normal" text-anchor="middle" fill="#111" >1000</text>
<text x="240.00" y="76.10" font-family='"Liberation Serif", serif' font-size="5.5" font-weight="normal" text-anchor="middle" fill="#111" >FL2-A</text>
<line x1="184.10" y1="61.80" x2="185.50" y2="61.80" stroke="#111" stroke-width="0.6" />
<text x="181.70" y="61.80" font-family='"Liberation Serif", serif' font-size="4.6" font-weight="normal" text-anchor="middle" fill="#111" transform="rotate(-90 181.70 61.80)" >0</text>
<line x1="184.10" y1="52.94" x2="185.50" y2="52.94" stroke="#111" stroke-width="0.6" />
<text x="181.70" y="52.94" font-family='"Liberation Serif", serif' font-size="4.6" font-weight="normal" text-anchor="middle" fill="#111" transform="rotate(-90 181.70 52.94)" >80</text>
<line x1="184.10" y1="44.08" x2="185.50" y2="44.08" stroke="#111" stroke-width="0.6" />
<text x="181.70" y="44.08" font-family='"Liberation Serif", serif' font-size="4.6" font-weight="normal" text-anchor="middle" fill="#111" transform="rotate(-90 181.70 44.08)" >160</text>
<line x1="184.10" y1="35.22" x2="185.50" y2="35.22" stroke="#111" stroke-width="0.6" />
<text x="181.70" y="35.22" font-family='"Liberation Serif", serif' font-size="4.6" font-weight="normal" text-anchor="middle" fill="#111" transform="rotate(-90 181.70 35.22)" >240</text>
<line x1="184.10" y1="26.36" x2="185.50" y2="26.36" stroke="#111" stroke-width="0.6" />
<text x="181.70" y="26.36" font-family='"Liberation Serif", serif' font-size="4.6" font-weight="normal" text-anchor="middle" fill="#111" transform="rotate(-90 181.70 26.36)" >320</text>
<line x1="184.10" y1="17.50" x2="185.50" y2="17.50" stroke="#111" stroke-width="0.6" />
<text x="181.70" y="17.50" font-family='"Liberation Serif", serif' font-size="4.6" font-weight="normal" text-anchor="middle" fill="#111" transform="rotate(-90 181.70 17.50)" >400</text>
<text x="175.80" y="38.85" font-family='"Liberation Serif", serif' font-size="5.2" font-weight="normal" text-anchor="middle" fill="#111" transform="rotate(-90 175.80 38.85)" >Counts</text>
<text x="259.20" y="29.90" font-family='"Liberation Sans", sans-serif' font-size="8.8" font-weight="bold" text-anchor="start" fill="#000" >Gli3+/+</text>
<text x="256.00" y="45.10" font-family='"Liberation Sans", sans-serif' font-size="9.1" font-weight="normal" text-anchor="middle" fill="#111" >25.33%</text>
<line x1="234.50" y1="53.20" x2="278.00" y2="53.20" stroke="#111" stroke-width="0.7" />
<line x1="234.50" y1="50.00" x2="234.50" y2="56.40" stroke="#111" stroke-width="0.7" />
<line x1="278.00" y1="50.00" x2="278.00" y2="56.40" stroke="#111" stroke-width="0.7" />
<text x="259.80" y="59.80" font-family='"Liberation Sans", sans-serif' font-size="4.8" font-weight="normal" text-anchor="middle" fill="#111" >M1</text>
<rect x="185.50" y="100.80" width="108.20" height="46.20" fill="#fff" stroke="#111" stroke-width="0.7" />
<polygon points="185.80,146.60 186.00,145.73 187.10,145.74 188.20,146.36 189.30,146.34 190.40,145.82 191.50,145.88 192.60,145.93 193.70,146.18 194.80,145.98 195.90,145.98 197.00,145.99 198.10,146.29 199.20,146.10 200.30,146.12 201.40,145.89 202.50,145.70 203.60,145.74 204.70,146.02 205.80,146.09 206.90,146.21 208.00,146.37 209.10,146.38 210.20,146.07 211.30,146.18 212.40,146.13 213.50,145.78 214.60,146.03 215.70,146.01 216.80,146.23 217.90,146.38 219.00,146.17 220.10,146.30 221.20,146.04 222.30,145.70 223.40,145.93 224.50,146.27 225.60,145.77 226.70,145.84 227.20,145.60 228.26,133.14 229.11,102.40 229.96,102.00 230.81,123.90 232.08,137.87 233.67,144.14 234.73,144.95 236.13,144.78 237.53,144.92 238.93,144.90 240.33,145.33 241.73,144.71 243.13,144.73 244.53,145.52 245.93,144.93 247.33,144.97 248.73,145.22 250.13,145.15 251.53,145.19 252.93,144.76 254.33,145.18 255.73,144.86 257.13,145.33 258.53,144.81 259.93,144.79 261.33,145.22 262.73,145.12 264.13,144.77 265.53,144.96 266.93,145.20 268.65,145.02 271.30,143.92 273.95,144.80 276.60,146.00 277.66,146.39 279.36,146.34 281.06,146.15 282.76,146.42 284.46,146.05 286.16,146.37 287.86,146.04 289.56,146.35 291.26,146.02 293.20,146.70 293.20,147.00 185.80,147.00" fill="#3a3a3a" stroke="#111" stroke-width="0.7" stroke-linejoin="round"/>
<text x="236.30" y="98.90" font-family='"Liberation Serif", serif' font-size="5.8" font-weight="normal" text-anchor="middle" fill="#222" >05-02-04 PI.003</text>
<line x1="186.50" y1="147.00" x2="186.50" y2="148.30" stroke="#111" stroke-width="0.6" />
<text x="186.50" y="155.30" font-family='"Liberation Serif", serif' font-size="5.6" font-weight="normal" text-anchor="middle" fill="#111" >0</text>
<line x1="207.70" y1="147.00" x2="207.70" y2="148.30" stroke="#111" stroke-width="0.6" />
<text x="207.70" y="155.30" font-family='"Liberation Serif", serif' font-size="5.6" font-weight="normal" text-anchor="middle" fill="#111" >200</text>
<line x1="228.90" y1="147.00" x2="228.90" y2="148.30" stroke="#111" stroke-width="0.6" />
<text x="228.90" y="155.30" font-family='"Liberation Serif", serif' font-size="5.6" font-weight="normal" text-anchor="middle" fill="#111" >400</text>
<line x1="250.10" y1="147.00" x2="250.10" y2="148.30" stroke="#111" stroke-width="0.6" />
<text x="250.10" y="155.30" font-family='"Liberation Serif", serif' font-size="5.6" font-weight="normal" text-anchor="middle" fill="#111" >600</text>
<line x1="271.30" y1="147.00" x2="271.30" y2="148.30" stroke="#111" stroke-width="0.6" />
<text x="271.30" y="155.30" font-family='"Liberation Serif", serif' font-size="5.6" font-weight="normal" text-anchor="middle" fill="#111" >800</text>
<line x1="292.50" y1="147.00" x2="292.50" y2="148.30" stroke="#111" stroke-width="0.6" />
<text x="292.50" y="155.30" font-family='"Liberation Serif", serif' font-size="5.6" font-weight="normal" text-anchor="middle" fill="#111" >1000</text>
<text x="240.00" y="161.30" font-family='"Liberation Serif", serif' font-size="5.5" font-weight="normal" text-anchor="middle" fill="#111" >FL2-A</text>
<line x1="184.10" y1="147.00" x2="185.50" y2="147.00" stroke="#111" stroke-width="0.6" />
<text x="181.70" y="147.00" font-family='"Liberation Serif", serif' font-size="4.6" font-weight="normal" text-anchor="middle" fill="#111" transform="rotate(-90 181.70 147.00)" >0</text>
<line x1="184.10" y1="138.16" x2="185.50" y2="138.16" stroke="#111" stroke-width="0.6" />
<text x="181.70" y="138.16" font-family='"Liberation Serif", serif' font-size="4.6" font-weight="normal" text-anchor="middle" fill="#111" transform="rotate(-90 181.70 138.16)" >30</text>
<line x1="184.10" y1="129.32" x2="185.50" y2="129.32" stroke="#111" stroke-width="0.6" />
<text x="181.70" y="129.32" font-family='"Liberation Serif", serif' font-size="4.6" font-weight="normal" text-anchor="middle" fill="#111" transform="rotate(-90 181.70 129.32)" >60</text>
<line x1="184.10" y1="120.48" x2="185.50" y2="120.48" stroke="#111" stroke-width="0.6" />
<text x="181.70" y="120.48" font-family='"Liberation Serif", serif' font-size="4.6" font-weight="normal" text-anchor="middle" fill="#111" transform="rotate(-90 181.70 120.48)" >90</text>
<line x1="184.10" y1="111.64" x2="185.50" y2="111.64" stroke="#111" stroke-width="0.6" />
<text x="181.70" y="111.64" font-family='"Liberation Serif", serif' font-size="4.6" font-weight="normal" text-anchor="middle" fill="#111" transform="rotate(-90 181.70 111.64)" >120</text>
<line x1="184.10" y1="102.80" x2="185.50" y2="102.80" stroke="#111" stroke-width="0.6" />
<text x="181.70" y="102.80" font-family='"Liberation Serif", serif' font-size="4.6" font-weight="normal" text-anchor="middle" fill="#111" transform="rotate(-90 181.70 102.80)" >150</text>
<text x="175.80" y="124.10" font-family='"Liberation Serif", serif' font-size="5.2" font-weight="normal" text-anchor="middle" fill="#111" transform="rotate(-90 175.80 124.10)" >Counts</text>
<text x="259.20" y="110.80" font-family='"Liberation Sans", sans-serif' font-size="8.8" font-weight="bold" text-anchor="start" fill="#000" >Gli3+/-</text>
<text x="262.50" y="130.40" font-family='"Liberation Sans", sans-serif' font-size="9.1" font-weight="normal" text-anchor="middle" fill="#111" >27.70%</text>
<line x1="234.50" y1="138.40" x2="278.00" y2="138.40" stroke="#111" stroke-width="0.7" />
<line x1="234.50" y1="135.20" x2="234.50" y2="141.60" stroke="#111" stroke-width="0.7" />
<line x1="278.00" y1="135.20" x2="278.00" y2="141.60" stroke="#111" stroke-width="0.7" />
<text x="259.80" y="145.00" font-family='"Liberation Sans", sans-serif' font-size="4.8" font-weight="normal" text-anchor="middle" fill="#111" >M1</text>
<rect x="185.50" y="179.00" width="108.20" height="47.00" fill="#fff" stroke="#111" stroke-width="0.7" />
<polygon points="185.80,225.60 186.00,225.23 187.10,225.02 188.20,225.14 189.30,224.98 190.40,224.96 191.50,225.35 192.60,225.39 193.70,224.81 194.80,225.22 195.90,225.24 197.00,224.70 198.10,225.07 199.20,224.81 200.30,225.07 201.40,224.95 202.50,225.29 203.60,224.96 204.70,224.79 205.80,225.03 206.90,224.88 208.00,224.93 209.10,225.36 210.20,224.87 211.30,224.99 212.40,225.19 213.50,225.38 214.60,224.79 215.70,225.07 216.80,224.90 217.90,224.78 219.00,224.90 220.10,224.76 221.20,225.12 222.30,224.84 223.40,225.09 224.50,224.75 225.60,224.78 226.70,225.33 227.20,224.60 228.26,211.90 229.11,180.60 229.96,180.20 230.81,202.50 232.08,218.98 233.67,223.92 234.73,224.94 236.13,224.88 237.53,224.34 238.93,224.73 240.33,224.59 241.73,224.82 243.13,224.67 244.53,224.76 245.93,224.79 247.33,224.62 248.73,224.62 250.13,224.39 251.53,224.55 252.93,224.37 254.33,224.42 255.73,224.33 257.13,224.56 258.53,224.92 259.93,224.42 261.33,224.35 262.73,224.39 264.13,224.63 265.53,224.53 266.93,224.89 268.65,224.56 271.30,223.76 273.95,224.40 276.60,225.00 277.66,225.08 279.36,225.21 281.06,225.36 282.76,225.47 284.46,225.07 286.16,225.01 287.86,225.46 289.56,225.10 291.26,225.29 293.20,225.70 293.20,226.00 185.80,226.00" fill="#3a3a3a" stroke="#111" stroke-width="0.7" stroke-linejoin="round"/>
<text x="236.30" y="177.10" font-family='"Liberation Serif", serif' font-size="5.8" font-weight="normal" text-anchor="middle" fill="#222" >05-02-04 PI.002</text>
<line x1="186.50" y1="226.00" x2="186.50" y2="227.30" stroke="#111" stroke-width="0.6" />
<text x="186.50" y="234.30" font-family='"Liberation Serif", serif' font-size="5.6" font-weight="normal" text-anchor="middle" fill="#111" >0</text>
<line x1="207.70" y1="226.00" x2="207.70" y2="227.30" stroke="#111" stroke-width="0.6" />
<text x="207.70" y="234.30" font-family='"Liberation Serif", serif' font-size="5.6" font-weight="normal" text-anchor="middle" fill="#111" >200</text>
<line x1="228.90" y1="226.00" x2="228.90" y2="227.30" stroke="#111" stroke-width="0.6" />
<text x="228.90" y="234.30" font-family='"Liberation Serif", serif' font-size="5.6" font-weight="normal" text-anchor="middle" fill="#111" >400</text>
<line x1="250.10" y1="226.00" x2="250.10" y2="227.30" stroke="#111" stroke-width="0.6" />
<text x="250.10" y="234.30" font-family='"Liberation Serif", serif' font-size="5.6" font-weight="normal" text-anchor="middle" fill="#111" >600</text>
<line x1="271.30" y1="226.00" x2="271.30" y2="227.30" stroke="#111" stroke-width="0.6" />
<text x="271.30" y="234.30" font-family='"Liberation Serif", serif' font-size="5.6" font-weight="normal" text-anchor="middle" fill="#111" >800</text>
<line x1="292.50" y1="226.00" x2="292.50" y2="227.30" stroke="#111" stroke-width="0.6" />
<text x="292.50" y="234.30" font-family='"Liberation Serif", serif' font-size="5.6" font-weight="normal" text-anchor="middle" fill="#111" >1000</text>
<text x="240.00" y="240.30" font-family='"Liberation Serif", serif' font-size="5.5" font-weight="normal" text-anchor="middle" fill="#111" >FL2-A</text>
<line x1="184.10" y1="226.00" x2="185.50" y2="226.00" stroke="#111" stroke-width="0.6" />
<text x="181.70" y="226.00" font-family='"Liberation Serif", serif' font-size="4.6" font-weight="normal" text-anchor="middle" fill="#111" transform="rotate(-90 181.70 226.00)" >0</text>
<line x1="184.10" y1="217.00" x2="185.50" y2="217.00" stroke="#111" stroke-width="0.6" />
<text x="181.70" y="217.00" font-family='"Liberation Serif", serif' font-size="4.6" font-weight="normal" text-anchor="middle" fill="#111" transform="rotate(-90 181.70 217.00)" >140</text>
<line x1="184.10" y1="208.00" x2="185.50" y2="208.00" stroke="#111" stroke-width="0.6" />
<text x="181.70" y="208.00" font-family='"Liberation Serif", serif' font-size="4.6" font-weight="normal" text-anchor="middle" fill="#111" transform="rotate(-90 181.70 208.00)" >280</text>
<line x1="184.10" y1="199.00" x2="185.50" y2="199.00" stroke="#111" stroke-width="0.6" />
<text x="181.70" y="199.00" font-family='"Liberation Serif", serif' font-size="4.6" font-weight="normal" text-anchor="middle" fill="#111" transform="rotate(-90 181.70 199.00)" >420</text>
<line x1="184.10" y1="190.00" x2="185.50" y2="190.00" stroke="#111" stroke-width="0.6" />
<text x="181.70" y="190.00" font-family='"Liberation Serif", serif' font-size="4.6" font-weight="normal" text-anchor="middle" fill="#111" transform="rotate(-90 181.70 190.00)" >560</text>
<line x1="184.10" y1="181.00" x2="185.50" y2="181.00" stroke="#111" stroke-width="0.6" />
<text x="181.70" y="181.00" font-family='"Liberation Serif", serif' font-size="4.6" font-weight="normal" text-anchor="middle" fill="#111" transform="rotate(-90 181.70 181.00)" >700</text>
<text x="175.80" y="202.70" font-family='"Liberation Serif", serif' font-size="5.2" font-weight="normal" text-anchor="middle" fill="#111" transform="rotate(-90 175.80 202.70)" >Counts</text>
<text x="259.20" y="190.20" font-family='"Liberation Sans", sans-serif' font-size="8.8" font-weight="bold" text-anchor="start" fill="#000" >Gli3-/-</text>
<text x="259.50" y="208.60" font-family='"Liberation Sans", sans-serif' font-size="9.1" font-weight="normal" text-anchor="middle" fill="#111" >26.41%</text>
<line x1="234.50" y1="217.40" x2="278.00" y2="217.40" stroke="#111" stroke-width="0.7" />
<line x1="234.50" y1="214.20" x2="234.50" y2="220.60" stroke="#111" stroke-width="0.7" />
<line x1="278.00" y1="214.20" x2="278.00" y2="220.60" stroke="#111" stroke-width="0.7" />
<text x="259.80" y="224.00" font-family='"Liberation Sans", sans-serif' font-size="4.8" font-weight="normal" text-anchor="middle" fill="#111" >M1</text>
<polygon points="163,18.6 158.6,28.2 167.4,28.2" fill="#000"/>
<line x1="163.20" y1="27.00" x2="163.20" y2="90.00" stroke="#111" stroke-width="0.9" />
<text x="166.80" y="125.00" font-family='"Liberation Sans", sans-serif' font-size="11.2" font-weight="normal" text-anchor="middle" fill="#111" transform="rotate(-90 166.80 125.00)" >Cell count</text>
<line x1="163.20" y1="156.00" x2="163.20" y2="242.60" stroke="#111" stroke-width="0.9" />
<line x1="162.80" y1="242.60" x2="223.50" y2="242.60" stroke="#111" stroke-width="0.9" />
<text x="232.00" y="247.20" font-family='"Liberation Sans", sans-serif' font-size="9.6" font-weight="bold" text-anchor="middle" fill="#000" >PI</text>
<line x1="246.50" y1="242.60" x2="291.00" y2="242.60" stroke="#111" stroke-width="0.9" />
<polygon points="298,242.6 288.5,238.3 288.5,246.9" fill="#000"/>
<rect x="334.50" y="186.60" width="81.90" height="29.70" fill="#fff" stroke="#111" stroke-width="0.7" />
<path d="M335.00 216.00C335.00 214.94 334.26 210.47 335.00 209.40C335.74 208.33 338.27 209.73 339.60 209.30C340.93 208.87 342.12 207.85 343.30 206.70C344.48 205.55 345.83 203.72 347.00 202.10C348.17 200.48 349.59 198.18 350.60 196.60C351.61 195.02 352.56 193.13 353.30 192.20C354.04 191.27 354.61 190.90 355.20 190.80C355.79 190.70 356.28 190.53 357.00 191.60C357.72 192.67 358.82 195.23 359.70 197.50C360.58 199.77 361.62 203.45 362.50 205.80C363.38 208.15 364.18 210.70 365.20 212.20C366.22 213.70 367.17 214.67 368.90 215.20C370.63 215.73 373.74 215.48 376.00 215.50C378.26 215.52 381.21 215.41 383.00 215.30C384.79 215.19 385.66 215.09 387.20 214.80C388.74 214.51 390.86 213.50 392.60 213.50C394.34 213.50 396.63 214.45 398.10 214.80C399.57 215.15 398.94 215.54 401.80 215.70C404.66 215.86 413.73 215.78 416.00 215.80L416.00 216.30L334.90 216.30Z" fill="#151515" stroke="#111" stroke-width="0.5" stroke-linejoin="round"/>
<text x="383.00" y="206.60" font-family='"Liberation Sans", sans-serif' font-size="8.5" font-weight="normal" text-anchor="start" fill="#111" >5.01%</text>
<line x1="377.20" y1="209.00" x2="408.50" y2="209.00" stroke="#222" stroke-width="0.55" />
<line x1="377.20" y1="207.10" x2="377.20" y2="210.90" stroke="#222" stroke-width="0.55" />
<line x1="408.50" y1="207.10" x2="408.50" y2="210.90" stroke="#222" stroke-width="0.55" />
<text x="395.00" y="212.00" font-family='"Liberation Sans", sans-serif' font-size="2.3" font-weight="normal" text-anchor="middle" fill="#333" >M1</text>
<line x1="335.10" y1="216.30" x2="335.10" y2="217.50" stroke="#111" stroke-width="0.5" />
<text x="333.10" y="222.60" font-family='"Liberation Serif", serif' font-size="4.2" fill="#000">10<tspan dy="-1.7" font-size="3.0">0</tspan></text>
<line x1="355.28" y1="216.30" x2="355.28" y2="217.50" stroke="#111" stroke-width="0.5" />
<text x="353.28" y="222.60" font-family='"Liberation Serif", serif' font-size="4.2" fill="#000">10<tspan dy="-1.7" font-size="3.0">1</tspan></text>
<line x1="375.45" y1="216.30" x2="375.45" y2="217.50" stroke="#111" stroke-width="0.5" />
<text x="373.45" y="222.60" font-family='"Liberation Serif", serif' font-size="4.2" fill="#000">10<tspan dy="-1.7" font-size="3.0">2</tspan></text>
<line x1="395.62" y1="216.30" x2="395.62" y2="217.50" stroke="#111" stroke-width="0.5" />
<text x="393.62" y="222.60" font-family='"Liberation Serif", serif' font-size="4.2" fill="#000">10<tspan dy="-1.7" font-size="3.0">3</tspan></text>
<line x1="415.80" y1="216.30" x2="415.80" y2="217.50" stroke="#111" stroke-width="0.5" />
<text x="413.80" y="222.60" font-family='"Liberation Serif", serif' font-size="4.2" fill="#000">10<tspan dy="-1.7" font-size="3.0">4</tspan></text>
<text x="374.25" y="226.90" font-family='"Liberation Sans", sans-serif' font-size="3.1" font-weight="normal" text-anchor="middle" fill="#111" >FL3-H</text>
<line x1="333.40" y1="216.30" x2="334.50" y2="216.30" stroke="#111" stroke-width="0.5" />
<line x1="333.40" y1="210.56" x2="334.50" y2="210.56" stroke="#111" stroke-width="0.5" />
<line x1="333.40" y1="204.82" x2="334.50" y2="204.82" stroke="#111" stroke-width="0.5" />
<line x1="333.40" y1="199.08" x2="334.50" y2="199.08" stroke="#111" stroke-width="0.5" />
<line x1="333.40" y1="193.34" x2="334.50" y2="193.34" stroke="#111" stroke-width="0.5" />
<line x1="333.40" y1="187.60" x2="334.50" y2="187.60" stroke="#111" stroke-width="0.5" />
<text x="332.80" y="201.45" font-family='"Liberation Serif", serif' font-size="3.3" font-weight="bold" text-anchor="middle" fill="#000" transform="rotate(-90 332.80 201.45)" >0 20 40 60 80 100</text>
<text x="327.90" y="203.45" font-family='"Liberation Serif", serif' font-size="3.6" font-weight="normal" text-anchor="middle" fill="#000" transform="rotate(-90 327.90 203.45)" >Counts</text>
<rect x="334.50" y="236.60" width="81.90" height="29.70" fill="#fff" stroke="#111" stroke-width="0.7" />
<path d="M335.00 266.00C335.00 265.68 333.96 264.46 335.00 264.00C336.04 263.54 339.29 263.69 341.50 263.10C343.71 262.51 347.06 261.32 348.80 260.30C350.54 259.28 351.23 258.16 352.40 256.70C353.57 255.24 355.08 252.67 356.10 251.20C357.12 249.73 358.02 248.28 358.80 247.50C359.58 246.72 360.41 246.38 361.00 246.30C361.59 246.22 361.83 246.07 362.50 247.00C363.17 247.93 364.42 250.12 365.20 252.10C365.98 254.08 366.66 257.43 367.40 259.40C368.14 261.37 368.98 263.42 369.80 264.40C370.62 265.38 370.87 265.32 372.50 265.50C374.13 265.68 377.65 265.58 380.00 265.50C382.35 265.42 385.18 265.21 387.20 265.00C389.22 264.79 390.87 264.17 392.60 264.20C394.33 264.23 396.50 264.94 398.00 265.20C399.50 265.46 399.12 265.70 402.00 265.80C404.88 265.90 413.76 265.80 416.00 265.80L416.00 266.30L334.90 266.30Z" fill="#151515" stroke="#111" stroke-width="0.5" stroke-linejoin="round"/>
<text x="378.00" y="259.30" font-family='"Liberation Sans", sans-serif' font-size="8.5" font-weight="normal" text-anchor="start" fill="#111" >5.27%</text>
<line x1="377.20" y1="259.40" x2="408.50" y2="259.40" stroke="#222" stroke-width="0.55" />
<line x1="377.20" y1="257.50" x2="377.20" y2="261.30" stroke="#222" stroke-width="0.55" />
<line x1="408.50" y1="257.50" x2="408.50" y2="261.30" stroke="#222" stroke-width="0.55" />
<text x="395.00" y="262.40" font-family='"Liberation Sans", sans-serif' font-size="2.3" font-weight="normal" text-anchor="middle" fill="#333" >M1</text>
<line x1="335.10" y1="266.30" x2="335.10" y2="267.50" stroke="#111" stroke-width="0.5" />
<text x="333.10" y="272.60" font-family='"Liberation Serif", serif' font-size="4.2" fill="#000">10<tspan dy="-1.7" font-size="3.0">0</tspan></text>
<line x1="355.28" y1="266.30" x2="355.28" y2="267.50" stroke="#111" stroke-width="0.5" />
<text x="353.28" y="272.60" font-family='"Liberation Serif", serif' font-size="4.2" fill="#000">10<tspan dy="-1.7" font-size="3.0">1</tspan></text>
<line x1="375.45" y1="266.30" x2="375.45" y2="267.50" stroke="#111" stroke-width="0.5" />
<text x="373.45" y="272.60" font-family='"Liberation Serif", serif' font-size="4.2" fill="#000">10<tspan dy="-1.7" font-size="3.0">2</tspan></text>
<line x1="395.62" y1="266.30" x2="395.62" y2="267.50" stroke="#111" stroke-width="0.5" />
<text x="393.62" y="272.60" font-family='"Liberation Serif", serif' font-size="4.2" fill="#000">10<tspan dy="-1.7" font-size="3.0">3</tspan></text>
<line x1="415.80" y1="266.30" x2="415.80" y2="267.50" stroke="#111" stroke-width="0.5" />
<text x="413.80" y="272.60" font-family='"Liberation Serif", serif' font-size="4.2" fill="#000">10<tspan dy="-1.7" font-size="3.0">4</tspan></text>
<text x="374.25" y="276.90" font-family='"Liberation Sans", sans-serif' font-size="3.1" font-weight="normal" text-anchor="middle" fill="#111" >FL3-H</text>
<line x1="333.40" y1="266.30" x2="334.50" y2="266.30" stroke="#111" stroke-width="0.5" />
<line x1="333.40" y1="260.56" x2="334.50" y2="260.56" stroke="#111" stroke-width="0.5" />
<line x1="333.40" y1="254.82" x2="334.50" y2="254.82" stroke="#111" stroke-width="0.5" />
<line x1="333.40" y1="249.08" x2="334.50" y2="249.08" stroke="#111" stroke-width="0.5" />
<line x1="333.40" y1="243.34" x2="334.50" y2="243.34" stroke="#111" stroke-width="0.5" />
<line x1="333.40" y1="237.60" x2="334.50" y2="237.60" stroke="#111" stroke-width="0.5" />
<text x="332.80" y="251.45" font-family='"Liberation Serif", serif' font-size="3.3" font-weight="bold" text-anchor="middle" fill="#000" transform="rotate(-90 332.80 251.45)" >0 20 40 60 80 100</text>
<text x="327.90" y="253.45" font-family='"Liberation Serif", serif' font-size="3.6" font-weight="normal" text-anchor="middle" fill="#000" transform="rotate(-90 327.90 253.45)" >Counts</text>
<rect x="334.50" y="292.00" width="81.90" height="29.10" fill="#fff" stroke="#111" stroke-width="0.7" />
<path d="M335.00 320.80C335.00 320.58 333.96 319.80 335.00 319.40C336.04 319.00 339.58 318.83 341.50 318.30C343.42 317.77 345.40 317.19 347.00 316.10C348.60 315.01 350.19 313.40 351.50 311.50C352.81 309.60 354.18 306.33 355.20 304.20C356.22 302.07 357.23 299.32 357.90 298.20C358.57 297.08 358.81 297.02 359.40 297.20C359.99 297.38 360.82 297.75 361.60 299.30C362.38 300.85 363.48 304.36 364.30 306.90C365.12 309.44 365.92 313.20 366.70 315.20C367.48 317.20 368.27 318.58 369.20 319.40C370.13 320.22 370.77 320.16 372.50 320.30C374.23 320.44 377.65 320.38 380.00 320.30C382.35 320.22 385.33 319.98 387.20 319.80C389.07 319.62 389.97 319.14 391.70 319.20C393.43 319.26 396.35 319.98 398.00 320.20C399.65 320.42 399.12 320.54 402.00 320.60C404.88 320.66 413.76 320.60 416.00 320.60L416.00 321.10L334.90 321.10Z" fill="#151515" stroke="#111" stroke-width="0.5" stroke-linejoin="round"/>
<text x="378.00" y="312.20" font-family='"Liberation Sans", sans-serif' font-size="8.5" font-weight="normal" text-anchor="start" fill="#111" >4.99%</text>
<line x1="377.20" y1="313.00" x2="408.50" y2="313.00" stroke="#222" stroke-width="0.55" />
<line x1="377.20" y1="311.10" x2="377.20" y2="314.90" stroke="#222" stroke-width="0.55" />
<line x1="408.50" y1="311.10" x2="408.50" y2="314.90" stroke="#222" stroke-width="0.55" />
<text x="395.00" y="316.00" font-family='"Liberation Sans", sans-serif' font-size="2.3" font-weight="normal" text-anchor="middle" fill="#333" >M1</text>
<line x1="335.10" y1="321.10" x2="335.10" y2="322.30" stroke="#111" stroke-width="0.5" />
<text x="333.10" y="327.40" font-family='"Liberation Serif", serif' font-size="4.2" fill="#000">10<tspan dy="-1.7" font-size="3.0">0</tspan></text>
<line x1="355.28" y1="321.10" x2="355.28" y2="322.30" stroke="#111" stroke-width="0.5" />
<text x="353.28" y="327.40" font-family='"Liberation Serif", serif' font-size="4.2" fill="#000">10<tspan dy="-1.7" font-size="3.0">1</tspan></text>
<line x1="375.45" y1="321.10" x2="375.45" y2="322.30" stroke="#111" stroke-width="0.5" />
<text x="373.45" y="327.40" font-family='"Liberation Serif", serif' font-size="4.2" fill="#000">10<tspan dy="-1.7" font-size="3.0">2</tspan></text>
<line x1="395.62" y1="321.10" x2="395.62" y2="322.30" stroke="#111" stroke-width="0.5" />
<text x="393.62" y="327.40" font-family='"Liberation Serif", serif' font-size="4.2" fill="#000">10<tspan dy="-1.7" font-size="3.0">3</tspan></text>
<line x1="415.80" y1="321.10" x2="415.80" y2="322.30" stroke="#111" stroke-width="0.5" />
<text x="413.80" y="327.40" font-family='"Liberation Serif", serif' font-size="4.2" fill="#000">10<tspan dy="-1.7" font-size="3.0">4</tspan></text>
<text x="374.25" y="331.70" font-family='"Liberation Sans", sans-serif' font-size="3.1" font-weight="normal" text-anchor="middle" fill="#111" >FL3-H</text>
<line x1="333.40" y1="321.10" x2="334.50" y2="321.10" stroke="#111" stroke-width="0.5" />
<line x1="333.40" y1="315.48" x2="334.50" y2="315.48" stroke="#111" stroke-width="0.5" />
<line x1="333.40" y1="309.86" x2="334.50" y2="309.86" stroke="#111" stroke-width="0.5" />
<line x1="333.40" y1="304.24" x2="334.50" y2="304.24" stroke="#111" stroke-width="0.5" />
<line x1="333.40" y1="298.62" x2="334.50" y2="298.62" stroke="#111" stroke-width="0.5" />
<line x1="333.40" y1="293.00" x2="334.50" y2="293.00" stroke="#111" stroke-width="0.5" />
<text x="332.80" y="320.60" font-family='"Liberation Serif", serif' font-size="3.3" font-weight="bold" text-anchor="start" fill="#000" transform="rotate(-90 332.80 320.60)" >0</text>
<text x="332.80" y="292.50" font-family='"Liberation Serif", serif' font-size="3.3" font-weight="bold" text-anchor="end" fill="#000" transform="rotate(-90 332.80 292.50)" >100</text>
<text x="327.90" y="308.55" font-family='"Liberation Serif", serif' font-size="3.6" font-weight="normal" text-anchor="middle" fill="#000" transform="rotate(-90 327.90 308.55)" >Counts</text>
<rect x="426.80" y="186.90" width="83.40" height="31.40" fill="#fff" stroke="#111" stroke-width="0.7" />
<path d="M427.40 217.70C428.25 217.64 431.23 217.62 432.70 217.30C434.17 216.98 435.50 216.64 436.60 215.70C437.70 214.76 438.66 213.34 439.60 211.40C440.54 209.46 441.72 206.11 442.50 203.60C443.28 201.09 443.88 198.05 444.50 195.70C445.12 193.35 445.87 190.20 446.40 188.90C446.93 187.60 447.32 187.46 447.80 187.60C448.28 187.74 448.90 188.18 449.40 189.80C449.90 191.42 450.44 194.87 450.90 197.70C451.36 200.53 451.82 204.83 452.30 207.50C452.78 210.17 453.28 212.83 453.90 214.40C454.52 215.97 455.05 216.76 456.20 217.30C457.35 217.84 452.52 217.72 461.10 217.80C469.68 217.88 502.01 217.80 509.80 217.80" fill="none" stroke="#1a1a1a" stroke-width="0.75" stroke-linejoin="round"/>
<text x="454.60" y="208.40" font-family='"Liberation Sans", sans-serif' font-size="8.5" font-weight="normal" text-anchor="start" fill="#111" >1.65%</text>
<line x1="457.20" y1="212.40" x2="481.70" y2="212.40" stroke="#222" stroke-width="0.55" />
<line x1="457.20" y1="210.50" x2="457.20" y2="214.30" stroke="#222" stroke-width="0.55" />
<line x1="481.70" y1="210.50" x2="481.70" y2="214.30" stroke="#222" stroke-width="0.55" />
<text x="468.45" y="215.40" font-family='"Liberation Sans", sans-serif' font-size="2.3" font-weight="normal" text-anchor="middle" fill="#333" >M1</text>
<line x1="427.40" y1="218.30" x2="427.40" y2="219.50" stroke="#111" stroke-width="0.5" />
<text x="425.40" y="224.60" font-family='"Liberation Serif", serif' font-size="4.2" fill="#000">10<tspan dy="-1.7" font-size="3.0">0</tspan></text>
<line x1="447.95" y1="218.30" x2="447.95" y2="219.50" stroke="#111" stroke-width="0.5" />
<text x="445.95" y="224.60" font-family='"Liberation Serif", serif' font-size="4.2" fill="#000">10<tspan dy="-1.7" font-size="3.0">1</tspan></text>
<line x1="468.50" y1="218.30" x2="468.50" y2="219.50" stroke="#111" stroke-width="0.5" />
<text x="466.50" y="224.60" font-family='"Liberation Serif", serif' font-size="4.2" fill="#000">10<tspan dy="-1.7" font-size="3.0">2</tspan></text>
<line x1="489.05" y1="218.30" x2="489.05" y2="219.50" stroke="#111" stroke-width="0.5" />
<text x="487.05" y="224.60" font-family='"Liberation Serif", serif' font-size="4.2" fill="#000">10<tspan dy="-1.7" font-size="3.0">3</tspan></text>
<line x1="509.60" y1="218.30" x2="509.60" y2="219.50" stroke="#111" stroke-width="0.5" />
<text x="507.60" y="224.60" font-family='"Liberation Serif", serif' font-size="4.2" fill="#000">10<tspan dy="-1.7" font-size="3.0">4</tspan></text>
<text x="467.30" y="228.90" font-family='"Liberation Sans", sans-serif' font-size="3.1" font-weight="normal" text-anchor="middle" fill="#111" >FL1-H</text>
<line x1="425.70" y1="218.30" x2="426.80" y2="218.30" stroke="#111" stroke-width="0.5" />
<line x1="425.70" y1="212.22" x2="426.80" y2="212.22" stroke="#111" stroke-width="0.5" />
<line x1="425.70" y1="206.14" x2="426.80" y2="206.14" stroke="#111" stroke-width="0.5" />
<line x1="425.70" y1="200.06" x2="426.80" y2="200.06" stroke="#111" stroke-width="0.5" />
<line x1="425.70" y1="193.98" x2="426.80" y2="193.98" stroke="#111" stroke-width="0.5" />
<line x1="425.70" y1="187.90" x2="426.80" y2="187.90" stroke="#111" stroke-width="0.5" />
<text x="425.10" y="202.60" font-family='"Liberation Serif", serif' font-size="3.3" font-weight="bold" text-anchor="middle" fill="#000" transform="rotate(-90 425.10 202.60)" >0 20 40 60 80 100</text>
<text x="420.20" y="204.60" font-family='"Liberation Serif", serif' font-size="3.6" font-weight="normal" text-anchor="middle" fill="#000" transform="rotate(-90 420.20 204.60)" >Counts</text>
<rect x="432.70" y="237.90" width="83.30" height="30.80" fill="#fff" stroke="#111" stroke-width="0.7" />
<path d="M433.30 268.30C433.99 268.08 436.13 267.68 437.60 266.90C439.07 266.12 441.09 264.90 442.50 263.40C443.91 261.90 445.30 259.71 446.40 257.50C447.50 255.29 448.62 251.95 449.40 249.60C450.18 247.25 450.77 244.37 451.30 242.80C451.83 241.23 452.22 239.80 452.70 239.80C453.18 239.80 453.74 240.91 454.30 242.80C454.86 244.69 455.58 248.62 456.20 251.60C456.82 254.58 457.56 258.95 458.20 261.40C458.84 263.85 459.42 265.81 460.20 266.90C460.98 267.99 454.24 267.99 463.10 268.20C471.96 268.41 507.20 268.20 515.60 268.20" fill="none" stroke="#1a1a1a" stroke-width="0.75" stroke-linejoin="round"/>
<text x="461.80" y="260.30" font-family='"Liberation Sans", sans-serif' font-size="8.5" font-weight="normal" text-anchor="start" fill="#111" >1.81%</text>
<line x1="463.50" y1="263.00" x2="487.60" y2="263.00" stroke="#222" stroke-width="0.55" />
<line x1="463.50" y1="261.10" x2="463.50" y2="264.90" stroke="#222" stroke-width="0.55" />
<line x1="487.60" y1="261.10" x2="487.60" y2="264.90" stroke="#222" stroke-width="0.55" />
<text x="474.55" y="266.00" font-family='"Liberation Sans", sans-serif' font-size="2.3" font-weight="normal" text-anchor="middle" fill="#333" >M1</text>
<line x1="433.30" y1="268.70" x2="433.30" y2="269.90" stroke="#111" stroke-width="0.5" />
<text x="431.30" y="275.00" font-family='"Liberation Serif", serif' font-size="4.2" fill="#000">10<tspan dy="-1.7" font-size="3.0">0</tspan></text>
<line x1="453.82" y1="268.70" x2="453.82" y2="269.90" stroke="#111" stroke-width="0.5" />
<text x="451.82" y="275.00" font-family='"Liberation Serif", serif' font-size="4.2" fill="#000">10<tspan dy="-1.7" font-size="3.0">1</tspan></text>
<line x1="474.35" y1="268.70" x2="474.35" y2="269.90" stroke="#111" stroke-width="0.5" />
<text x="472.35" y="275.00" font-family='"Liberation Serif", serif' font-size="4.2" fill="#000">10<tspan dy="-1.7" font-size="3.0">2</tspan></text>
<line x1="494.88" y1="268.70" x2="494.88" y2="269.90" stroke="#111" stroke-width="0.5" />
<text x="492.88" y="275.00" font-family='"Liberation Serif", serif' font-size="4.2" fill="#000">10<tspan dy="-1.7" font-size="3.0">3</tspan></text>
<line x1="515.40" y1="268.70" x2="515.40" y2="269.90" stroke="#111" stroke-width="0.5" />
<text x="513.40" y="275.00" font-family='"Liberation Serif", serif' font-size="4.2" fill="#000">10<tspan dy="-1.7" font-size="3.0">4</tspan></text>
<text x="473.15" y="279.30" font-family='"Liberation Sans", sans-serif' font-size="3.1" font-weight="normal" text-anchor="middle" fill="#111" >FL1-H</text>
<line x1="431.60" y1="268.70" x2="432.70" y2="268.70" stroke="#111" stroke-width="0.5" />
<line x1="431.60" y1="262.74" x2="432.70" y2="262.74" stroke="#111" stroke-width="0.5" />
<line x1="431.60" y1="256.78" x2="432.70" y2="256.78" stroke="#111" stroke-width="0.5" />
<line x1="431.60" y1="250.82" x2="432.70" y2="250.82" stroke="#111" stroke-width="0.5" />
<line x1="431.60" y1="244.86" x2="432.70" y2="244.86" stroke="#111" stroke-width="0.5" />
<line x1="431.60" y1="238.90" x2="432.70" y2="238.90" stroke="#111" stroke-width="0.5" />
<text x="431.00" y="253.30" font-family='"Liberation Serif", serif' font-size="3.3" font-weight="bold" text-anchor="middle" fill="#000" transform="rotate(-90 431.00 253.30)" >0 40 80 120 160</text>
<text x="426.10" y="255.30" font-family='"Liberation Serif", serif' font-size="3.6" font-weight="normal" text-anchor="middle" fill="#000" transform="rotate(-90 426.10 255.30)" >Counts</text>
<rect x="432.70" y="291.90" width="83.30" height="31.30" fill="#fff" stroke="#111" stroke-width="0.7" />
<path d="M433.30 322.60C434.31 322.49 437.81 322.59 439.60 321.90C441.39 321.21 443.09 319.96 444.50 318.30C445.91 316.64 447.31 314.01 448.40 311.50C449.49 308.99 450.52 305.27 451.30 302.60C452.08 299.93 452.72 296.40 453.30 294.80C453.88 293.20 454.40 292.44 454.90 292.60C455.40 292.76 455.87 293.88 456.40 295.80C456.93 297.72 457.59 301.62 458.20 304.60C458.81 307.58 459.58 311.82 460.20 314.40C460.82 316.98 461.32 319.39 462.10 320.70C462.88 322.01 456.54 322.28 465.10 322.60C473.66 322.92 507.52 322.68 515.60 322.70" fill="none" stroke="#1a1a1a" stroke-width="0.75" stroke-linejoin="round"/>
<text x="461.80" y="312.70" font-family='"Liberation Sans", sans-serif' font-size="8.5" font-weight="normal" text-anchor="start" fill="#111" >1.57%</text>
<line x1="463.50" y1="317.40" x2="487.60" y2="317.40" stroke="#222" stroke-width="0.55" />
<line x1="463.50" y1="315.50" x2="463.50" y2="319.30" stroke="#222" stroke-width="0.55" />
<line x1="487.60" y1="315.50" x2="487.60" y2="319.30" stroke="#222" stroke-width="0.55" />
<text x="474.55" y="320.40" font-family='"Liberation Sans", sans-serif' font-size="2.3" font-weight="normal" text-anchor="middle" fill="#333" >M1</text>
<line x1="433.30" y1="323.20" x2="433.30" y2="324.40" stroke="#111" stroke-width="0.5" />
<text x="431.30" y="329.50" font-family='"Liberation Serif", serif' font-size="4.2" fill="#000">10<tspan dy="-1.7" font-size="3.0">0</tspan></text>
<line x1="453.82" y1="323.20" x2="453.82" y2="324.40" stroke="#111" stroke-width="0.5" />
<text x="451.82" y="329.50" font-family='"Liberation Serif", serif' font-size="4.2" fill="#000">10<tspan dy="-1.7" font-size="3.0">1</tspan></text>
<line x1="474.35" y1="323.20" x2="474.35" y2="324.40" stroke="#111" stroke-width="0.5" />
<text x="472.35" y="329.50" font-family='"Liberation Serif", serif' font-size="4.2" fill="#000">10<tspan dy="-1.7" font-size="3.0">2</tspan></text>
<line x1="494.88" y1="323.20" x2="494.88" y2="324.40" stroke="#111" stroke-width="0.5" />
<text x="492.88" y="329.50" font-family='"Liberation Serif", serif' font-size="4.2" fill="#000">10<tspan dy="-1.7" font-size="3.0">3</tspan></text>
<line x1="515.40" y1="323.20" x2="515.40" y2="324.40" stroke="#111" stroke-width="0.5" />
<text x="513.40" y="329.50" font-family='"Liberation Serif", serif' font-size="4.2" fill="#000">10<tspan dy="-1.7" font-size="3.0">4</tspan></text>
<text x="473.15" y="333.80" font-family='"Liberation Sans", sans-serif' font-size="3.1" font-weight="normal" text-anchor="middle" fill="#111" >FL1-H</text>
<line x1="431.60" y1="323.20" x2="432.70" y2="323.20" stroke="#111" stroke-width="0.5" />
<line x1="431.60" y1="317.14" x2="432.70" y2="317.14" stroke="#111" stroke-width="0.5" />
<line x1="431.60" y1="311.08" x2="432.70" y2="311.08" stroke="#111" stroke-width="0.5" />
<line x1="431.60" y1="305.02" x2="432.70" y2="305.02" stroke="#111" stroke-width="0.5" />
<line x1="431.60" y1="298.96" x2="432.70" y2="298.96" stroke="#111" stroke-width="0.5" />
<line x1="431.60" y1="292.90" x2="432.70" y2="292.90" stroke="#111" stroke-width="0.5" />
<text x="431.00" y="307.55" font-family='"Liberation Serif", serif' font-size="3.3" font-weight="bold" text-anchor="middle" fill="#000" transform="rotate(-90 431.00 307.55)" >0 40 80 120 160</text>
<text x="426.10" y="309.55" font-family='"Liberation Serif", serif' font-size="3.6" font-weight="normal" text-anchor="middle" fill="#000" transform="rotate(-90 426.10 309.55)" >Counts</text>
<text x="404.60" y="180.80" font-family='"Liberation Sans", sans-serif' font-size="8.6" font-weight="normal" text-anchor="start" fill="#111" >Gli3+/+</text>
<text x="404.60" y="233.80" font-family='"Liberation Sans", sans-serif' font-size="8.6" font-weight="normal" text-anchor="start" fill="#111" >Gli3+/-</text>
<text x="407.20" y="283.60" font-family='"Liberation Sans", sans-serif' font-size="8.6" font-weight="normal" text-anchor="start" fill="#111" >Gli3-/-</text>
<polygon points="320.6,189.6 316.4,198.2 324.8,198.2" fill="#000"/>
<line x1="320.50" y1="197.50" x2="320.50" y2="222.00" stroke="#111" stroke-width="0.9" />
<text x="322.30" y="247.50" font-family='"Liberation Sans", sans-serif' font-size="10.6" font-weight="normal" text-anchor="middle" fill="#111" transform="rotate(-90 322.30 247.50)" >Cell count</text>
<line x1="320.50" y1="273.00" x2="320.50" y2="332.50" stroke="#111" stroke-width="0.9" />
<line x1="336.30" y1="337.70" x2="354.70" y2="337.70" stroke="#111" stroke-width="0.8" />
<text x="374.00" y="343.00" font-family='"Liberation Sans", sans-serif' font-size="9.6" font-weight="normal" text-anchor="middle" fill="#111" >TCRγδ</text>
<line x1="395.50" y1="337.70" x2="407.00" y2="337.70" stroke="#111" stroke-width="0.8" />
<polygon points="414.6,337.7 405.6,333.6 405.6,341.8" fill="#000"/>
<line x1="434.80" y1="337.70" x2="459.00" y2="337.70" stroke="#111" stroke-width="0.8" />
<text x="474.20" y="342.80" font-family='"Liberation Sans", sans-serif' font-size="9.6" font-weight="normal" text-anchor="middle" fill="#111" >NK1.1</text>
<line x1="493.00" y1="337.70" x2="508.00" y2="337.70" stroke="#111" stroke-width="0.8" />
<polygon points="516.2,337.7 507,333.6 507,341.8" fill="#000"/>
</svg>
</body></html>
